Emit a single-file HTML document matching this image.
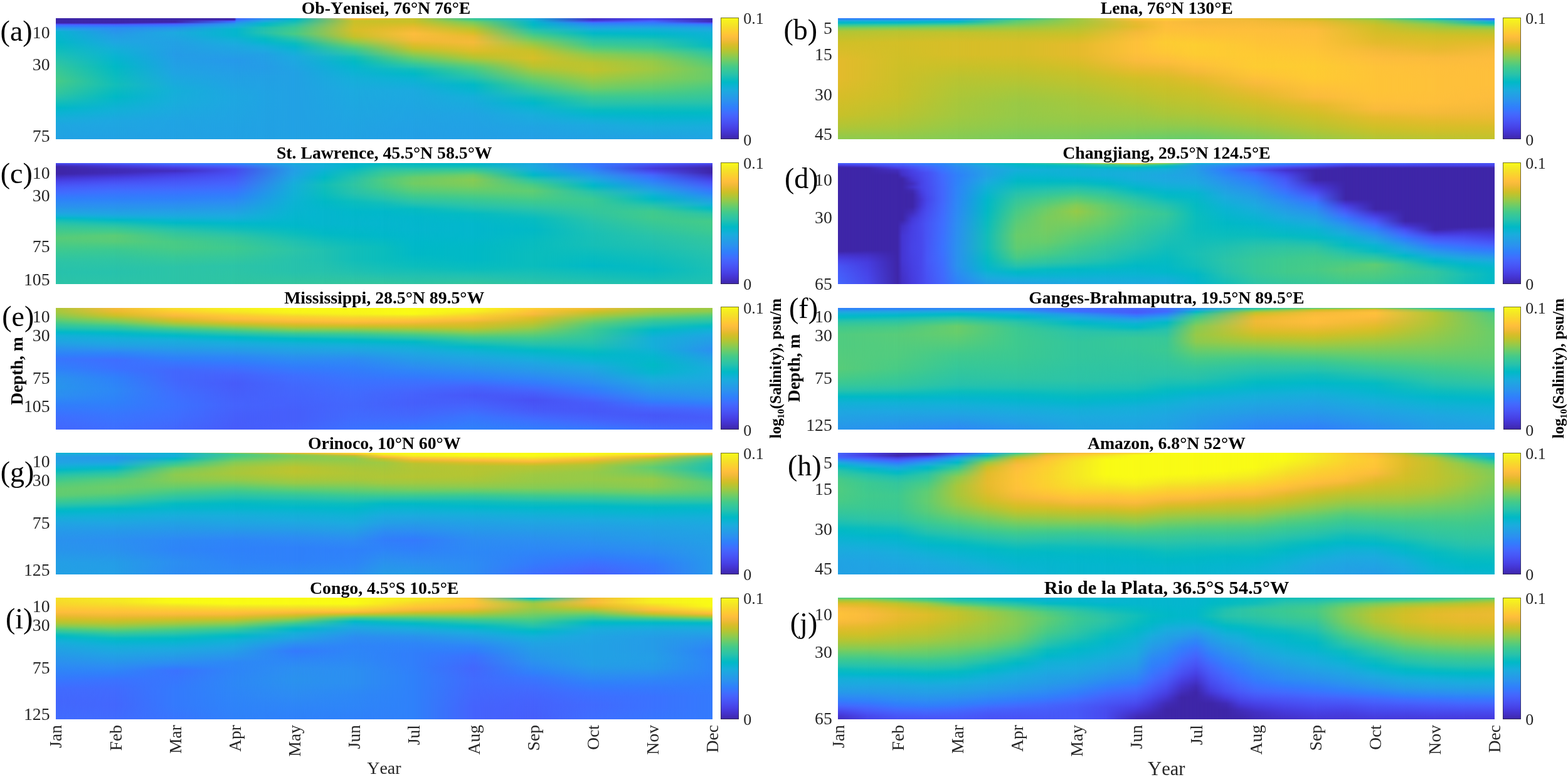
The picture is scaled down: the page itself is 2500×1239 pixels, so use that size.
<!DOCTYPE html>
<html lang="en"><head><meta charset="utf-8"><title>Salinity gradient seasonal cycle</title>
<style>
html,body{margin:0;padding:0;background:#fff}
body{width:2500px;height:1239px;position:relative;overflow:hidden;font-kerning:none;font-family:"Liberation Serif","DejaVu Serif",serif;color:#262626}
.p{position:absolute;overflow:hidden}
.p i{position:absolute;top:0;height:100%;display:block}
.cb{position:absolute;box-sizing:border-box;box-shadow:inset 0 0 0 1px rgba(38,38,38,.62);background-repeat:no-repeat}
svg{position:absolute;left:0;top:0}
text{font-family:"Liberation Serif","DejaVu Serif",serif;font-kerning:none;fill:#262626}
.t{font-size:27.75px;font-weight:bold;text-anchor:middle;fill:#000}
.y{font-size:27.7px;text-anchor:end}
.c{font-size:26px;text-anchor:start}
.l{font-size:46px;fill:#000}
.m{font-size:27.5px;text-anchor:end}
.x{font-size:27.9px;text-anchor:middle}
.d{font-size:27.5px;font-weight:bold;text-anchor:middle;fill:#000}
.s{font-size:25px;font-weight:bold;text-anchor:middle;fill:#000}
</style></head><body>
<div class="p" style="left:89.00px;top:28.55px;width:1046.75px;height:193.90px">
<i style="left:0;width:96.16px;background:linear-gradient(#3e26a8 0%,#3e26a8 4%,#422fc1 4.25%,#4538d7 4.5%,#4743e7 4.75%,#484ff2 5%,#475bf9 5.25%,#4367fd 5.5%,#3b72ff 6.12%,#317efb 6.75%,#2d88f6 7.38%,#2a92ee 8%,#259ce7 8.75%,#20a4e3 9.5%,#19addc 10.25%,#0ab4d2 11%,#01b9c6 20%,#0abdbd 25%,#1ac0b5 30%,#2cc4a7 36%,#37c898 42%,#48cb86 52%,#33c69d 62%,#27c2ac 66%,#12beb9 70%,#01b9c6 74%,#0ab4d2 78%,#17aeda 83%,#1ea7e1 88%,#22a1e4 100%)"></i>
<i style="left:0.00px;width:191.32px;background:linear-gradient(#3e26a8 0%,#3e26a8 4%,#422fc1 4.25%,#4538d7 4.5%,#4743e7 4.75%,#484ff2 5%,#475bf9 5.25%,#4367fd 5.5%,#3a73fe 6.33%,#2f80fa 7.17%,#2d8cf3 8%,#2994ed 11%,#259ce7 14%,#1fa6e2 19.5%,#15afd9 25%,#07b5d0 32.5%,#01b9c6 40%,#12beb9 55%,#01b9c6 65%,#11b1d6 75%,#1ea7e1 85%,#22a1e4 100%);-webkit-mask-image:linear-gradient(90deg,transparent 0,#000 49.739%);mask-image:linear-gradient(90deg,transparent 0,#000 49.739%)"></i>
<i style="left:95.16px;width:191.32px;background:linear-gradient(#3e26a8 0%,#3e26a8 3.5%,#422fc1 3.75%,#4538d7 4%,#4743e7 4.25%,#484ff2 4.5%,#475bf9 4.75%,#4367fd 5%,#3a73fe 5.75%,#3080fb 6.5%,#2d8bf4 7.25%,#2895ec 8%,#23a0e5 10%,#1caadf 12%,#22a1e4 20%,#259ce7 30%,#20a4e3 45%,#15afd9 60%,#19addc 70%,#20a4e3 85%,#22a1e4 100%);-webkit-mask-image:linear-gradient(90deg,transparent 0,#000 49.739%);mask-image:linear-gradient(90deg,transparent 0,#000 49.739%)"></i>
<i style="left:190.32px;width:99.01px;background:linear-gradient(#3e26a8 0%,#3e26a8 1.5%,#422fc1 1.67%,#4538d7 1.83%,#4743e7 2%,#484ff2 2.17%,#475af9 2.33%,#4367fd 2.5%,#3975fe 3.12%,#2e83f9 3.75%,#2c90f0 4.38%,#259ce7 5%,#1fa5e2 6.33%,#17aeda 7.67%,#05b6ce 9%,#05b6ce 14%,#13b0d7 18%,#1caadf 22%,#22a1e4 28.5%,#2699ea 35%,#22a1e4 50%,#1ea7e1 65%,#22a1e4 100%);-webkit-mask-image:linear-gradient(90deg,transparent 0,#000 96.107%);mask-image:linear-gradient(90deg,transparent 0,#000 96.107%)"></i>
<i style="left:285.48px;width:48.58px;background:linear-gradient(#4367fd 0%,#3f6eff 1.5%,#317efb 2.25%,#2d8cf3 3%,#2797eb 4%,#22a1e4 5%,#1ca9df 6.33%,#14b0d8 7.67%,#05b6ce 9%,#05b6ce 14%,#13b0d7 18%,#1caadf 22%,#22a1e4 28.5%,#2699ea 35%,#22a1e4 50%,#1ea7e1 65%,#22a1e4 100%);-webkit-mask-image:linear-gradient(90deg,transparent 0,#000 5.876%);mask-image:linear-gradient(90deg,transparent 0,#000 5.876%)"></i>
<i style="left:288.33px;width:93.30px;background:linear-gradient(#2d8cf3 0%,#2994ed 0.75%,#259ce7 1.5%,#1fa5e2 2.33%,#17aeda 3.17%,#05b6ce 4%,#07bcc0 6%,#21c1b0 8%,#27c2ac 12%,#16bfb7 14.5%,#04bbc2 17%,#05b6ce 20%,#15afd9 23%,#1da9e0 26.5%,#22a1e4 30%,#259ce7 40%,#22a1e4 50%,#20a4e3 65%,#22a1e4 100%);-webkit-mask-image:linear-gradient(90deg,transparent 0,#000 47.934%);mask-image:linear-gradient(90deg,transparent 0,#000 47.934%)"></i>
<i style="left:333.06px;width:143.74px;background:linear-gradient(#05b6ce 0%,#02bac4 1.5%,#12beb9 3%,#2cc4a7 5.5%,#3bc992 8%,#48cb86 13%,#33c69d 15.5%,#21c1b0 18%,#07bcc0 21%,#05b6ce 24%,#13b0d7 28%,#1caadf 32%,#22a1e4 45%,#22a1e4 100%);-webkit-mask-image:linear-gradient(90deg,transparent 0,#000 33.101%);mask-image:linear-gradient(90deg,transparent 0,#000 33.101%)"></i>
<i style="left:380.64px;width:191.32px;background:linear-gradient(#fec13a 0%,#f3ba39 0.67%,#e0bc2a 1.33%,#c8c129 2%,#d7be28 10%,#c8c129 15%,#acc738 17.5%,#8dcb4f 20%,#74cc62 21.67%,#5dcc75 23.33%,#48cb86 25%,#35c79a 27.33%,#29c3aa 29.67%,#12beb9 32%,#02bac4 36%,#05b6ce 40%,#15afd9 50%,#1caadf 60%,#22a1e4 100%);-webkit-mask-image:linear-gradient(90deg,transparent 0,#000 49.739%);mask-image:linear-gradient(90deg,transparent 0,#000 49.739%)"></i>
<i style="left:475.80px;width:191.32px;background:linear-gradient(#c8c129 0%,#c8c129 3%,#dabd28 5.5%,#eaba31 8%,#fdbd3d 13%,#f5ba3a 18%,#e1bc2b 21.5%,#c8c129 25%,#acc738 27.5%,#8dcb4f 30%,#74cc62 32%,#5dcc75 34%,#48cb86 36%,#35c79a 38%,#29c3aa 40%,#12beb9 42%,#01b9c6 46%,#0ab4d2 50%,#1caadf 60%,#20a4e3 80%,#249fe6 100%);-webkit-mask-image:linear-gradient(90deg,transparent 0,#000 49.739%);mask-image:linear-gradient(90deg,transparent 0,#000 49.739%)"></i>
<i style="left:570.95px;width:191.32px;background:linear-gradient(#2fc5a2 0%,#3dc990 1%,#55cc7c 2%,#71cd64 3%,#91ca4c 5.5%,#b0c636 8%,#c6c22a 10.33%,#d9be28 12.67%,#eaba31 15%,#f5ba3a 20%,#debd29 27%,#c8c129 30%,#b0c636 33%,#93ca4b 35.33%,#74cc62 37.67%,#58cc79 40%,#3eca8f 43.5%,#2fc5a2 47%,#24c1af 49.67%,#0fbebb 52.33%,#01b9c6 55%,#07b5d0 60%,#15afd9 65%,#20a4e3 80%,#249fe6 100%);-webkit-mask-image:linear-gradient(90deg,transparent 0,#000 49.739%);mask-image:linear-gradient(90deg,transparent 0,#000 49.739%)"></i>
<i style="left:666.11px;width:191.32px;background:linear-gradient(#1caadf 0%,#13b0d7 1.5%,#05b6ce 3%,#02bac4 5.5%,#12beb9 8%,#29c3aa 10%,#35c79a 12%,#48cb86 14%,#5dcc75 16%,#74cc62 18%,#8dcb4f 20%,#acc738 23.5%,#c8c129 27%,#d7be28 33%,#c8c129 36.5%,#b9c431 40%,#9ac945 44%,#7acc5d 48%,#60cd72 51.5%,#48cb86 55%,#35c79a 58.5%,#27c2ac 62%,#0ebdbb 66%,#01b8ca 70%,#0eb3d4 75%,#19addc 80%,#20a4e3 90%,#249fe6 100%);-webkit-mask-image:linear-gradient(90deg,transparent 0,#000 49.739%);mask-image:linear-gradient(90deg,transparent 0,#000 49.739%)"></i>
<i style="left:761.27px;width:191.32px;background:linear-gradient(#4433cc 0%,#4433cc 2%,#463de0 2.33%,#4849ed 2.67%,#4755f6 3%,#4661fc 3.33%,#406dfe 3.67%,#347afd 4%,#2e86f7 5%,#2b91ef 6%,#259ce7 7%,#21a3e3 8%,#1babde 9%,#11b1d6 10%,#01b8c8 12.5%,#12beb9 15%,#2cc4a7 18.5%,#3bc992 22%,#52cc7e 24.67%,#6ecd67 27.33%,#8dcb4f 30%,#a3c83f 33.5%,#b9c431 37%,#c1c32d 43%,#b0c636 46.5%,#9fc942 50%,#88cb53 54%,#71cd64 58%,#54cc7d 61.5%,#3bc992 65%,#2fc5a2 68.5%,#21c1b0 72%,#07bcc0 76%,#05b6ce 80%,#13b0d7 84%,#1caadf 88%,#22a1e4 100%);-webkit-mask-image:linear-gradient(90deg,transparent 0,#000 49.739%);mask-image:linear-gradient(90deg,transparent 0,#000 49.739%)"></i>
<i style="left:856.43px;width:191.32px;background:linear-gradient(#4743e7 0%,#4743e7 1%,#484ef1 1.5%,#4758f8 2%,#4563fd 2.5%,#3f6eff 3%,#327bfc 4%,#2e87f7 5%,#2a92ee 6%,#259de7 7%,#1fa6e1 8%,#15afd9 9%,#0ab4d2 11%,#01b8ca 13%,#0abdbd 15.5%,#21c1b0 18%,#2fc5a2 21%,#3bc992 24%,#54cc7d 27%,#71cd64 30%,#96ca48 36%,#9fc942 42%,#84cc56 50%,#71cd64 54%,#60cd72 58%,#48cb86 62%,#37c898 66%,#29c3a9 70%,#12beb9 74%,#02bac4 78%,#05b6ce 82%,#11b1d6 86%,#19addc 90%,#22a1e4 100%);-webkit-mask-image:linear-gradient(90deg,transparent 0,#000 49.739%);mask-image:linear-gradient(90deg,transparent 0,#000 49.739%)"></i>
<i style="left:951.59px;width:95.16px;background:linear-gradient(#402bb7 0%,#402bb7 3%,#4435d2 3.33%,#4742e6 3.67%,#4850f2 4%,#465dfa 4.33%,#416bfe 4.67%,#347afd 5%,#2e85f8 5.75%,#2c8ff1 6.5%,#2699ea 7.25%,#22a1e4 8%,#1caadf 10%,#11b1d6 12%,#05b6ce 18%,#04bbc2 23%,#1ac0b5 25.5%,#2cc4a7 28%,#37c898 31%,#48cb86 34%,#58cc79 38%,#68cd6b 42%,#68cd6b 50%,#58cc79 54%,#48cb86 58%,#33c69d 66%,#27c2ac 70%,#12beb9 74%,#02bac4 78%,#05b6ce 82%,#11b1d6 86%,#19addc 90%,#20a4e3 100%);-webkit-mask-image:linear-gradient(90deg,transparent 0,#000 100.000%);mask-image:linear-gradient(90deg,transparent 0,#000 100.000%)"></i>
</div>
<div class="cb" style="left:1149.40px;top:28.25px;width:28.50px;height:194.00px;background:linear-gradient(#f9fb15 0.0%,#f6ef20 3.1%,#f5e327 6.2%,#f9d62d 9.4%,#feca33 12.5%,#febe3c 15.6%,#f1ba37 18.8%,#debc2a 21.9%,#c8c129 25.0%,#afc637 28.1%,#94ca4a 31.2%,#77cc60 34.4%,#5ccc76 37.5%,#44ca8a 40.6%,#34c79c 43.8%,#28c2ab 46.9%,#12beb9 50.0%,#01b9c6 53.1%,#0cb3d3 56.2%,#1aacdd 59.4%,#21a3e3 62.5%,#269ae9 65.6%,#2c90f0 68.8%,#2e85f8 71.9%,#347afd 75.0%,#3f6efe 78.1%,#4562fc 81.2%,#4757f7 84.4%,#484cef 87.5%,#4741e5 90.6%,#4536d5 93.8%,#422ebf 96.9%,#3e26a8 100.0%)"></div>
<div class="p" style="left:1336.25px;top:28.55px;width:1046.75px;height:193.90px">
<i style="left:0;width:96.16px;background:linear-gradient(#347afd 0%,#2e83f9 0.5%,#2d8cf3 1%,#2896ec 1.38%,#249fe6 1.75%,#1ea7e1 2.12%,#15afd9 2.5%,#07b5d0 3.25%,#01b9c6 4%,#18bfb6 4.67%,#2dc4a5 5.33%,#3bc992 6%,#4dcc82 6.67%,#62cd70 7.33%,#7acc5d 8%,#96ca48 9.5%,#b0c636 11%,#c1c32d 15.5%,#d0c027 20%,#e4bb2c 35%,#e4bb2c 50%,#d7be28 65%,#c8c129 80%,#b0c636 90%,#8dcb4f 100%)"></i>
<i style="left:0.00px;width:191.32px;background:linear-gradient(#347afd 0%,#2e83f9 0.5%,#2d8cf3 1%,#2896ec 1.38%,#249fe6 1.75%,#1ea7e1 2.12%,#15afd9 2.5%,#05b6ce 3.25%,#04bbc2 4%,#1ac0b5 4.5%,#2cc4a7 5%,#37c898 5.5%,#48cb86 6%,#64cd6f 7%,#84cc56 8%,#9fc942 9.5%,#b9c431 11%,#d3bf27 20%,#d0c027 35%,#ccc028 50%,#c8c129 65%,#b9c431 80%,#a8c73b 90%,#8dcb4f 100%);-webkit-mask-image:linear-gradient(90deg,transparent 0,#000 49.739%);mask-image:linear-gradient(90deg,transparent 0,#000 49.739%)"></i>
<i style="left:95.16px;width:191.32px;background:linear-gradient(#2d8cf3 0%,#2994ed 0.5%,#259ce7 1%,#1fa5e2 1.5%,#17aeda 2%,#05b6ce 2.5%,#07bcc0 3.25%,#21c1b0 4%,#32c69f 4.67%,#43ca8a 5.33%,#60cd72 6%,#76cc61 7%,#8dcb4f 8%,#a8c73b 10%,#c1c32d 12%,#d7be28 20%,#d7be28 30%,#c8c129 40%,#b9c431 50%,#b0c636 60%,#a8c73b 70%,#a3c83f 80%,#96ca48 90%,#84cc56 100%);-webkit-mask-image:linear-gradient(90deg,transparent 0,#000 49.739%);mask-image:linear-gradient(90deg,transparent 0,#000 49.739%)"></i>
<i style="left:190.32px;width:191.32px;background:linear-gradient(#12beb9 0%,#27c2ac 0.5%,#33c69d 1%,#41ca8c 1.5%,#58cc79 2%,#68cd6b 3.5%,#7acc5d 5%,#9fc942 8%,#b0c636 10%,#c1c32d 12%,#d7be28 20%,#d7be28 30%,#c8c129 40%,#b9c431 50%,#a8c73b 60%,#9ac945 70%,#96ca48 80%,#8dcb4f 90%,#7acc5d 100%);-webkit-mask-image:linear-gradient(90deg,transparent 0,#000 49.739%);mask-image:linear-gradient(90deg,transparent 0,#000 49.739%)"></i>
<i style="left:285.48px;width:191.32px;background:linear-gradient(#9fc942 0%,#9fc942 2%,#a8c73b 5%,#bdc42f 10%,#d0c027 15%,#e4bb2c 22%,#e4bb2c 30%,#d7be28 38%,#c8c129 45%,#b9c431 55%,#a8c73b 65%,#9fc942 75%,#96ca48 85%,#7acc5d 100%);-webkit-mask-image:linear-gradient(90deg,transparent 0,#000 49.739%);mask-image:linear-gradient(90deg,transparent 0,#000 49.739%)"></i>
<i style="left:380.64px;width:143.74px;background:linear-gradient(#fad42e 0%,#fec835 0.5%,#fdbd3d 1%,#eaba31 3%,#e4bb2c 7%,#f5ba3a 12%,#fec13a 20%,#fec13a 28%,#fabb3d 35%,#eaba31 42%,#debd29 46%,#d0c027 50%,#c1c32d 60%,#b0c636 70%,#9fc942 80%,#8dcb4f 90%,#6dcd68 100%);-webkit-mask-image:linear-gradient(90deg,transparent 0,#000 66.203%);mask-image:linear-gradient(90deg,transparent 0,#000 66.203%)"></i>
<i style="left:475.80px;width:96.16px;background:linear-gradient(#fad42e 0%,#fec835 1.5%,#fdbd3d 3%,#fec13a 10%,#fdcc32 20%,#fec835 28%,#fdbd3d 36%,#eaba31 43%,#d7be28 50%,#c8c129 60%,#b9c431 70%,#a8c73b 80%,#8dcb4f 90%,#7acc5d 95%,#68cd6b 100%);-webkit-mask-image:linear-gradient(90deg,transparent 0,#000 49.480%);mask-image:linear-gradient(90deg,transparent 0,#000 49.480%)"></i>
<i style="left:523.38px;width:143.74px;background:linear-gradient(#fec13a 0%,#f5ba3a 3%,#fdbd3d 8%,#fec437 15%,#fdce31 22%,#fdcc32 30%,#fec13a 38%,#f5ba3a 44%,#e4bb2c 50%,#d0c027 58%,#c1c32d 68%,#b0c636 78%,#96ca48 88%,#7acc5d 95%,#68cd6b 100%);-webkit-mask-image:linear-gradient(90deg,transparent 0,#000 33.101%);mask-image:linear-gradient(90deg,transparent 0,#000 33.101%)"></i>
<i style="left:570.95px;width:191.32px;background:linear-gradient(#eaba31 0%,#f5ba3a 3%,#febf3b 10%,#fec437 20%,#feca33 30%,#fdcc32 40%,#fec437 47%,#fabb3d 53%,#eaba31 60%,#d7be28 68%,#c1c32d 78%,#a8c73b 88%,#91ca4c 94%,#7acc5d 100%);-webkit-mask-image:linear-gradient(90deg,transparent 0,#000 49.739%);mask-image:linear-gradient(90deg,transparent 0,#000 49.739%)"></i>
<i style="left:666.11px;width:191.32px;background:linear-gradient(#c8c129 0%,#dabd28 1.5%,#eaba31 3%,#fdbd3d 10%,#fec13a 20%,#fec636 30%,#fdcc32 40%,#feca33 50%,#fec13a 58%,#fabb3d 65%,#e4bb2c 72%,#d0c027 80%,#b9c431 90%,#a8c73b 95%,#96ca48 100%);-webkit-mask-image:linear-gradient(90deg,transparent 0,#000 49.739%);mask-image:linear-gradient(90deg,transparent 0,#000 49.739%)"></i>
<i style="left:761.27px;width:191.32px;background:linear-gradient(#71cd64 0%,#91ca4c 1%,#b0c636 2%,#ccc028 6%,#d7be28 12%,#e4bb2c 20%,#f5ba3a 27%,#fdbd3d 33%,#fec339 40%,#fec437 50%,#fec437 60%,#fec13a 68%,#fabb3d 75%,#e4bb2c 82%,#d0c027 90%,#c1c32d 95%,#b0c636 100%);-webkit-mask-image:linear-gradient(90deg,transparent 0,#000 49.739%);mask-image:linear-gradient(90deg,transparent 0,#000 49.739%)"></i>
<i style="left:856.43px;width:191.32px;background:linear-gradient(#05b6ce 0%,#08bcbe 0.5%,#24c2ae 1%,#34c79c 1.5%,#48cb86 2%,#5dcc75 3%,#74cc62 4%,#8dcb4f 5%,#b0c636 9%,#c1c32d 11.5%,#d0c027 14%,#debd29 20%,#eaba31 27%,#fabb3d 33%,#febf3b 40%,#fec13a 50%,#fec13a 60%,#febf3b 70%,#f5ba3a 78%,#e4bb2c 85%,#d3bf27 92%,#b9c431 100%);-webkit-mask-image:linear-gradient(90deg,transparent 0,#000 49.739%);mask-image:linear-gradient(90deg,transparent 0,#000 49.739%)"></i>
<i style="left:951.59px;width:95.16px;background:linear-gradient(#4367fd 0%,#4367fd 1%,#3a74fe 1.25%,#2f80fa 1.5%,#2d8cf3 1.75%,#2797eb 2%,#23a1e5 2.25%,#1caadf 2.5%,#0eb2d4 3.17%,#01b9c7 3.83%,#12beb9 4.5%,#2bc3a8 5.12%,#39c895 5.75%,#52cc7e 6.38%,#71cd64 7%,#91ca4c 8.5%,#b0c636 10%,#c1c32d 12.5%,#d0c027 15%,#e4bb2c 20%,#f5ba3a 27%,#fdbd3d 35%,#febf3b 45%,#febf3b 55%,#fdbd3d 65%,#f5ba3a 75%,#eaba31 83%,#d7be28 90%,#c1c32d 100%);-webkit-mask-image:linear-gradient(90deg,transparent 0,#000 100.000%);mask-image:linear-gradient(90deg,transparent 0,#000 100.000%)"></i>
</div>
<div class="cb" style="left:2396.30px;top:28.25px;width:28.30px;height:194.00px;background:linear-gradient(#f9fb15 0.0%,#f6ef20 3.1%,#f5e327 6.2%,#f9d62d 9.4%,#feca33 12.5%,#febe3c 15.6%,#f1ba37 18.8%,#debc2a 21.9%,#c8c129 25.0%,#afc637 28.1%,#94ca4a 31.2%,#77cc60 34.4%,#5ccc76 37.5%,#44ca8a 40.6%,#34c79c 43.8%,#28c2ab 46.9%,#12beb9 50.0%,#01b9c6 53.1%,#0cb3d3 56.2%,#1aacdd 59.4%,#21a3e3 62.5%,#269ae9 65.6%,#2c90f0 68.8%,#2e85f8 71.9%,#347afd 75.0%,#3f6efe 78.1%,#4562fc 81.2%,#4757f7 84.4%,#484cef 87.5%,#4741e5 90.6%,#4536d5 93.8%,#422ebf 96.9%,#3e26a8 100.0%)"></div>
<div class="p" style="left:89.00px;top:259.60px;width:1046.75px;height:193.90px">
<i style="left:0;width:96.16px;background:linear-gradient(#4755f6 0%,#4849ed 0.5%,#463de0 1%,#4433cc 1.5%,#412dbb 2.25%,#3e26a8 3%,#3e26a8 9%,#412dbb 10.5%,#4433cc 12%,#463adc 13.5%,#4743e7 15%,#4850f2 17.5%,#475cfa 20%,#4465fd 22.5%,#3f6eff 25%,#3678fd 27.5%,#2f81fa 30%,#2d8af4 33%,#2a92ee 36%,#259ce7 38.5%,#20a4e3 41%,#1aabdd 42.5%,#11b1d6 44%,#01b8c8 45.5%,#12beb9 47%,#27c2ac 49.5%,#33c69d 52%,#48cb86 58%,#58cc79 62%,#48cb86 68%,#37c898 75%,#2cc4a7 82%,#27c2ac 90%,#2cc4a7 100%)"></i>
<i style="left:0.00px;width:191.32px;background:linear-gradient(#4367fd 0%,#475cfa 0.5%,#4851f4 1%,#4747eb 1.5%,#463cde 2%,#4433cc 3.5%,#402bb7 5%,#402bb7 8%,#4433cc 10%,#463adc 11.5%,#4743e7 13%,#4850f2 15.5%,#475cfa 18%,#4465fd 20.5%,#3f6eff 23%,#3678fd 26.5%,#2f81fa 30%,#2d8cf3 33.5%,#2895ec 37%,#249de7 39.5%,#20a4e3 42%,#1aabdd 43.5%,#11b1d6 45%,#01b8c8 47%,#12beb9 49%,#29c3a9 51.5%,#37c898 54%,#46cb88 57%,#5ccc76 60%,#58cc79 65%,#48cb86 68.5%,#3bc992 72%,#2fc5a2 80%,#27c2ac 90%,#2cc4a7 100%);-webkit-mask-image:linear-gradient(90deg,transparent 0,#000 49.739%);mask-image:linear-gradient(90deg,transparent 0,#000 49.739%)"></i>
<i style="left:95.16px;width:191.32px;background:linear-gradient(#347afd 0%,#406dfe 0.67%,#4661fc 1.33%,#4755f6 2%,#4848ec 3%,#463cde 4%,#4434d0 5.25%,#422ebe 6.5%,#4434d0 7.75%,#463cde 9%,#4745e9 11%,#484ef1 13%,#4757f7 15.5%,#465ffb 18%,#4369fe 21%,#3b72ff 24%,#347afd 27%,#2f81fa 30%,#2d8cf3 33.5%,#2895ec 37%,#249fe6 40%,#1ea7e1 43%,#17aeda 45%,#0ab4d2 47%,#01b9c6 49.5%,#12beb9 52%,#27c2ac 55%,#33c69d 58%,#48cb86 65%,#48cb86 70%,#37c898 78%,#2cc4a7 86%,#2cc4a7 100%);-webkit-mask-image:linear-gradient(90deg,transparent 0,#000 49.739%);mask-image:linear-gradient(90deg,transparent 0,#000 49.739%)"></i>
<i style="left:190.32px;width:191.32px;background:linear-gradient(#2d8cf3 0%,#2f80fa 0.67%,#3a74fe 1.33%,#4367fd 2%,#465dfa 3%,#4854f5 4%,#484aee 5%,#484ef1 8%,#4758f8 12%,#465ffb 15%,#4367fd 18%,#3d70ff 21.5%,#347afd 25%,#2e83f9 28.5%,#2d8cf3 32%,#2797eb 36%,#22a1e4 40%,#1da9e0 43%,#15afd9 46%,#0ab4d2 48%,#01b8ca 50%,#12beb9 55%,#27c2ac 58.5%,#33c69d 62%,#3eca8f 70%,#37c898 76%,#2cc4a7 85%,#2fc5a2 100%);-webkit-mask-image:linear-gradient(90deg,transparent 0,#000 49.739%);mask-image:linear-gradient(90deg,transparent 0,#000 49.739%)"></i>
<i style="left:285.48px;width:143.74px;background:linear-gradient(#15afd9 0%,#20a4e3 2%,#249fe6 5%,#20a4e3 10%,#15afd9 18%,#11b1d6 25%,#0ab4d2 35%,#05b6ce 45%,#01b8ca 52%,#0abdbd 58%,#21c1b0 65%,#2cc4a7 72%,#27c2ac 80%,#27c2ac 90%,#33c69d 100%);-webkit-mask-image:linear-gradient(90deg,transparent 0,#000 66.203%);mask-image:linear-gradient(90deg,transparent 0,#000 66.203%)"></i>
<i style="left:380.64px;width:96.16px;background:linear-gradient(#11b1d6 0%,#15afd9 3%,#0ab4d2 7%,#01b9c6 12%,#12beb9 18%,#0abdbd 25%,#01b9c6 32%,#05b6ce 40%,#05b6ce 50%,#01b9c6 58%,#12beb9 65%,#21c1b0 72%,#21c1b0 80%,#27c2ac 90%,#33c69d 100%);-webkit-mask-image:linear-gradient(90deg,transparent 0,#000 49.480%);mask-image:linear-gradient(90deg,transparent 0,#000 49.480%)"></i>
<i style="left:428.22px;width:96.16px;background:linear-gradient(#05b6ce 0%,#01b8ca 3%,#12beb9 7%,#27c2ac 12%,#2fc5a2 18%,#27c2ac 25%,#1ac0b5 28.5%,#0abdbd 32%,#01b8ca 40%,#05b6ce 50%,#01b9c6 60%,#12beb9 70%,#12beb9 80%,#21c1b0 90%,#2cc4a7 95%,#33c69d 100%);-webkit-mask-image:linear-gradient(90deg,transparent 0,#000 49.480%);mask-image:linear-gradient(90deg,transparent 0,#000 49.480%)"></i>
<i style="left:475.80px;width:96.16px;background:linear-gradient(#01b9c6 0%,#0ebdbb 2%,#21c1b0 4%,#2ec4a5 6%,#37c898 8%,#41ca8c 11%,#50cc80 14%,#48cb86 20%,#39c895 23.5%,#2fc5a2 27%,#24c2ae 30%,#12beb9 33%,#01b8ca 40%,#05b6ce 50%,#01b8ca 60%,#0abdbd 70%,#0abdbd 80%,#1ac0b5 90%,#29c3a9 95%,#33c69d 100%);-webkit-mask-image:linear-gradient(90deg,transparent 0,#000 49.480%);mask-image:linear-gradient(90deg,transparent 0,#000 49.480%)"></i>
<i style="left:523.38px;width:143.74px;background:linear-gradient(#01b9c6 0%,#12beb9 3%,#2cc4a7 5%,#3bc992 7%,#50cc80 9.5%,#68cd6b 12%,#71cd64 17%,#58cc79 23%,#48cb86 25.5%,#3bc992 28%,#31c6a0 30.5%,#27c2ac 33%,#16bfb7 35.5%,#04bbc2 38%,#03b7cc 45%,#05b6ce 55%,#01b8ca 65%,#01b9c6 75%,#0abdbd 85%,#21c1b0 93%,#2fc5a2 100%);-webkit-mask-image:linear-gradient(90deg,transparent 0,#000 33.101%);mask-image:linear-gradient(90deg,transparent 0,#000 33.101%)"></i>
<i style="left:570.95px;width:191.32px;background:linear-gradient(#05b6ce 0%,#02bac4 1.5%,#12beb9 3%,#2cc4a7 4.5%,#3bc992 6%,#54cc7d 8%,#71cd64 10%,#88cb53 14%,#7acc5d 19%,#68cd6b 22%,#58cc79 25%,#48cb86 27.5%,#3bc992 30%,#31c6a0 33%,#27c2ac 36%,#16bfb7 39%,#04bbc2 42%,#03b7cc 50%,#03b7cc 60%,#01b9c6 70%,#01b9c6 80%,#0abdbd 88%,#1ac0b5 91.5%,#27c2ac 95%,#33c69d 100%);-webkit-mask-image:linear-gradient(90deg,transparent 0,#000 49.739%);mask-image:linear-gradient(90deg,transparent 0,#000 49.739%)"></i>
<i style="left:666.11px;width:191.32px;background:linear-gradient(#1caadf 0%,#1caadf 3%,#15afd9 6%,#07b5d0 8%,#01b9c6 10%,#16bfb7 12%,#2cc4a7 14%,#37c898 16%,#48cb86 18%,#60cd72 23%,#50cc80 28%,#41ca8c 31%,#37c898 34%,#2ec4a5 37%,#21c1b0 40%,#07bcc0 46%,#01b9c6 55%,#07bcc0 65%,#0abdbd 75%,#0abdbd 85%,#21c1b0 95%,#2cc4a7 100%);-webkit-mask-image:linear-gradient(90deg,transparent 0,#000 49.739%);mask-image:linear-gradient(90deg,transparent 0,#000 49.739%)"></i>
<i style="left:761.27px;width:191.32px;background:linear-gradient(#347afd 0%,#347afd 3%,#2e83f9 5%,#2d8cf3 7%,#2895ec 9%,#249fe6 11%,#1ea7e1 13%,#15afd9 15%,#07b5d0 17%,#01b9c6 19%,#12beb9 21.5%,#27c2ac 24%,#31c6a0 27%,#3bc992 30%,#39c895 35%,#31c6a0 42%,#24c2ae 50%,#1ac0b5 58%,#16bfb7 68%,#07bcc0 78%,#01b9c6 85%,#12beb9 92%,#27c2ac 100%);-webkit-mask-image:linear-gradient(90deg,transparent 0,#000 49.739%);mask-image:linear-gradient(90deg,transparent 0,#000 49.739%)"></i>
<i style="left:856.43px;width:191.32px;background:linear-gradient(#4367fd 0%,#465dfa 0.67%,#4854f5 1.33%,#484aee 2%,#4741e5 3.25%,#4539d9 4.5%,#4741e5 5.75%,#484aee 7%,#4854f5 8%,#465dfa 9%,#4367fd 10%,#3974fe 12.5%,#2f81fa 15%,#2d8df2 17.5%,#2699ea 20%,#20a4e3 22.5%,#15afd9 25%,#07b5d0 27.5%,#01b9c6 30%,#12beb9 32.5%,#27c2ac 35%,#32c69e 37.5%,#3eca8f 40%,#41ca8c 45%,#35c79a 52%,#29c3a9 60%,#1ec0b2 70%,#0ebdbb 80%,#04bbc2 88%,#12beb9 95%,#21c1b0 100%);-webkit-mask-image:linear-gradient(90deg,transparent 0,#000 49.739%);mask-image:linear-gradient(90deg,transparent 0,#000 49.739%)"></i>
<i style="left:951.59px;width:95.16px;background:linear-gradient(#4755f6 0%,#4849ed 0.67%,#463de0 1.33%,#4433cc 2%,#412dbb 3%,#3e26a8 4%,#3e26a8 8%,#412dbb 9.5%,#4433cc 11%,#463ee1 13%,#484aee 15%,#4854f5 16.67%,#465dfa 18.33%,#4367fd 20%,#3974fe 22.5%,#2f81fa 25%,#2c8ff1 27.5%,#259ce7 30%,#21a3e3 31.67%,#1babde 33.33%,#11b1d6 35%,#03b7cc 36.5%,#04bbc2 38%,#1ac0b5 40%,#2cc4a7 42%,#36c799 45%,#44cb89 48%,#3eca8f 55%,#33c69d 62%,#2cc4a7 70%,#21c1b0 80%,#1ac0b5 90%,#21c1b0 100%);-webkit-mask-image:linear-gradient(90deg,transparent 0,#000 100.000%);mask-image:linear-gradient(90deg,transparent 0,#000 100.000%)"></i>
</div>
<div class="cb" style="left:1149.40px;top:259.30px;width:28.50px;height:194.00px;background:linear-gradient(#f9fb15 0.0%,#f6ef20 3.1%,#f5e327 6.2%,#f9d62d 9.4%,#feca33 12.5%,#febe3c 15.6%,#f1ba37 18.8%,#debc2a 21.9%,#c8c129 25.0%,#afc637 28.1%,#94ca4a 31.2%,#77cc60 34.4%,#5ccc76 37.5%,#44ca8a 40.6%,#34c79c 43.8%,#28c2ab 46.9%,#12beb9 50.0%,#01b9c6 53.1%,#0cb3d3 56.2%,#1aacdd 59.4%,#21a3e3 62.5%,#269ae9 65.6%,#2c90f0 68.8%,#2e85f8 71.9%,#347afd 75.0%,#3f6efe 78.1%,#4562fc 81.2%,#4757f7 84.4%,#484cef 87.5%,#4741e5 90.6%,#4536d5 93.8%,#422ebf 96.9%,#3e26a8 100.0%)"></div>
<div class="p" style="left:1336.25px;top:259.60px;width:1046.75px;height:193.90px">
<i style="left:0;width:48.58px;background:linear-gradient(#4367fd 0%,#475bf9 0.5%,#484ff2 1%,#4743e7 1.5%,#463adb 2%,#4332ca 2.5%,#402bb7 3%,#3e26a8 4%,#3e26a8 73%,#412dbb 74.5%,#4433cc 76%,#463adc 78%,#4743e7 80%,#484cef 82.5%,#4755f6 85%,#465ffb 92%,#4367fd 100%)"></i>
<i style="left:0.00px;width:96.16px;background:linear-gradient(#4367fd 0%,#475bf9 0.67%,#484ff2 1.33%,#4743e7 2%,#4538d7 2.67%,#422fc1 3.33%,#3e26a8 4%,#3e26a8 72%,#402bb7 74%,#4330c5 76%,#4536d3 79%,#463cde 82%,#4743e7 90%,#484aee 100%);-webkit-mask-image:linear-gradient(90deg,transparent 0,#000 49.480%);mask-image:linear-gradient(90deg,transparent 0,#000 49.480%)"></i>
<i style="left:47.58px;width:56.19px;background:linear-gradient(#3f6eff 0%,#4562fc 1%,#4756f7 2%,#484aee 3%,#473fe3 4%,#4536d3 5%,#422ebe 6%,#3e26a8 10%,#3e26a8 100%);-webkit-mask-image:linear-gradient(90deg,transparent 0,#000 84.673%);mask-image:linear-gradient(90deg,transparent 0,#000 84.673%)"></i>
<i style="left:95.16px;width:24.79px;background:linear-gradient(#3f6eff 0%,#4562fc 1%,#4756f7 2%,#484aee 3%,#473fe3 4.5%,#4536d3 6%,#4330c5 10%,#402bb7 11.5%,#3e26a8 13%,#3e26a8 47%,#402bb7 49.5%,#4330c5 52%,#4536d3 60%,#4536d3 80%,#4330c5 100%);-webkit-mask-image:linear-gradient(90deg,transparent 0,#000 30.709%);mask-image:linear-gradient(90deg,transparent 0,#000 30.709%)"></i>
<i style="left:102.77px;width:31.45px;background:linear-gradient(#347afd 0%,#406dfe 1%,#4661fc 2%,#4755f6 3%,#484cef 4.5%,#4743e7 6%,#463cde 10%,#4536d3 14%,#422ebe 17%,#4433cc 20%,#422ebe 21.5%,#3f29b0 23%,#3e26a8 26%,#3e26a8 36%,#422ebe 41%,#4433cc 43.5%,#4539d9 46%,#473fe3 52%,#4743e7 70%,#463cde 100%);-webkit-mask-image:linear-gradient(90deg,transparent 0,#000 51.436%);mask-image:linear-gradient(90deg,transparent 0,#000 51.436%)"></i>
<i style="left:118.95px;width:24.79px;background:linear-gradient(#2f81fa 0%,#3876fe 1%,#416bfe 2%,#465ffb 3%,#4755f6 5.5%,#484aee 8%,#4743e7 15%,#4743e7 20%,#463cde 25%,#4536d3 30%,#4539d9 35%,#4743e7 42%,#484aee 50%,#4747eb 100%);-webkit-mask-image:linear-gradient(90deg,transparent 0,#000 57.580%);mask-image:linear-gradient(90deg,transparent 0,#000 57.580%)"></i>
<i style="left:133.22px;width:34.31px;background:linear-gradient(#2e85f8 0%,#327bfc 1%,#3d71ff 2%,#4367fd 3%,#475cfa 5.5%,#4851f4 8%,#484ef1 15%,#484aee 25%,#4747eb 30%,#484ef1 40%,#4755f6 50%,#4758f8 80%,#4851f4 100%);-webkit-mask-image:linear-gradient(90deg,transparent 0,#000 27.739%);mask-image:linear-gradient(90deg,transparent 0,#000 27.739%)"></i>
<i style="left:142.74px;width:48.58px;background:linear-gradient(#2d8cf3 0%,#2e83f9 1.5%,#347afd 3%,#3b72ff 6.5%,#416bfe 10%,#4367fd 20%,#4367fd 30%,#3f6eff 50%,#3b72ff 70%,#4367fd 100%);-webkit-mask-image:linear-gradient(90deg,transparent 0,#000 48.971%);mask-image:linear-gradient(90deg,transparent 0,#000 48.971%)"></i>
<i style="left:166.53px;width:72.37px;background:linear-gradient(#259ce7 0%,#2994ed 1.5%,#2d8cf3 3%,#2f81fa 10%,#2e85f8 20%,#2d88f6 30%,#2c8ff1 50%,#2a92ee 70%,#2a92ee 85%,#2d8af4 92.5%,#2f81fa 100%);-webkit-mask-image:linear-gradient(90deg,transparent 0,#000 32.873%);mask-image:linear-gradient(90deg,transparent 0,#000 32.873%)"></i>
<i style="left:190.32px;width:96.16px;background:linear-gradient(#05b6ce 0%,#13b0d7 1%,#1caadf 2%,#22a1e4 6%,#22a1e4 10%,#1caadf 15%,#11b1d6 20%,#01b8ca 30%,#02bac4 40%,#0abdbd 50%,#12beb9 60%,#12beb9 70%,#04bbc2 80%,#05b6ce 88%,#13b0d7 91.5%,#1caadf 95%,#21a3e3 97.5%,#259ce7 100%);-webkit-mask-image:linear-gradient(90deg,transparent 0,#000 49.480%);mask-image:linear-gradient(90deg,transparent 0,#000 49.480%)"></i>
<i style="left:237.90px;width:96.16px;background:linear-gradient(#12beb9 0%,#02bac4 1%,#05b6ce 2%,#15afd9 6%,#0ab4d2 10%,#01b9c6 15%,#12beb9 20%,#27c2ac 25%,#33c69d 30%,#48cb86 40%,#5ccc76 50%,#68cd6b 60%,#60cd72 70%,#48cb86 78%,#35c79a 81.5%,#27c2ac 85%,#12beb9 87.5%,#01b9c6 90%,#07b5d0 92.5%,#15afd9 95%,#1da9e0 97.5%,#22a1e4 100%);-webkit-mask-image:linear-gradient(90deg,transparent 0,#000 49.480%);mask-image:linear-gradient(90deg,transparent 0,#000 49.480%)"></i>
<i style="left:285.48px;width:96.16px;background:linear-gradient(#2fc5a2 0%,#23c1af 0.67%,#0fbeba 1.33%,#01b9c6 2%,#11b1d6 6%,#0ab4d2 10%,#01b9c6 15%,#0abdbd 17.5%,#1ac0b5 20%,#2cc4a7 23.33%,#37c898 26.67%,#48cb86 30%,#5acc78 34%,#6dcd68 38%,#7acc5d 45%,#76cc61 55%,#68cd6b 65%,#58cc79 70%,#48cb86 75%,#39c895 78.5%,#2fc5a2 82%,#1ec0b2 85%,#04bbc2 88%,#0ab4d2 93%,#19addc 96.5%,#20a4e3 100%);-webkit-mask-image:linear-gradient(90deg,transparent 0,#000 49.480%);mask-image:linear-gradient(90deg,transparent 0,#000 49.480%)"></i>
<i style="left:333.06px;width:96.16px;background:linear-gradient(#71cd64 0%,#51cc7f 0.38%,#39c895 0.75%,#2bc3a8 1.12%,#12beb9 1.5%,#01b8c8 3.25%,#11b1d6 5%,#11b1d6 10%,#01b9c6 15%,#0ebdbb 17.5%,#21c1b0 20%,#2fc5a2 22.67%,#3bc992 25.33%,#50cc80 28%,#68cd6b 31.5%,#84cc56 35%,#96ca48 40%,#84cc56 46%,#68cd6b 55%,#50cc80 65%,#41ca8c 70%,#37c898 75%,#27c2ac 82%,#12beb9 85%,#01b9c6 88%,#0ab4d2 93%,#17aeda 96.5%,#1ea7e1 100%);-webkit-mask-image:linear-gradient(90deg,transparent 0,#000 49.480%);mask-image:linear-gradient(90deg,transparent 0,#000 49.480%)"></i>
<i style="left:380.64px;width:96.16px;background:linear-gradient(#c8c129 0%,#a8c73b 0.3%,#84cc56 0.6%,#60cd72 0.9%,#41ca8c 1.2%,#2fc5a2 1.5%,#21c1b0 2.38%,#0abdbd 3.25%,#01b8ca 4.12%,#11b1d6 5%,#15afd9 10%,#05b6ce 15%,#02bac4 17.5%,#12beb9 20%,#2cc4a7 24%,#3bc992 28%,#4ccb83 31.5%,#60cd72 35%,#6dcd68 42%,#60cd72 50%,#48cb86 60%,#33c69d 70%,#27c2ac 78%,#1ac0b5 81.5%,#0abdbd 85%,#05b6ce 90%,#13b0d7 95%,#1caadf 100%);-webkit-mask-image:linear-gradient(90deg,transparent 0,#000 49.480%);mask-image:linear-gradient(90deg,transparent 0,#000 49.480%)"></i>
<i style="left:428.22px;width:96.16px;background:linear-gradient(#f5ba3a 0%,#e0bc2a 0.25%,#c6c22a 0.5%,#a8c73b 0.75%,#87cb54 1%,#65cd6e 1.25%,#48cb86 1.5%,#34c79c 2.12%,#24c2ae 2.75%,#08bcbf 3.38%,#05b6ce 4%,#11b1d6 6%,#19addc 8%,#19addc 13%,#0ab4d2 18%,#01b9c6 21.5%,#12beb9 25%,#27c2ac 28.5%,#33c69d 32%,#48cb86 40%,#3eca8f 50%,#33c69d 60%,#27c2ac 70%,#12beb9 78%,#01b9c6 85%,#0ab4d2 92%,#1caadf 100%);-webkit-mask-image:linear-gradient(90deg,transparent 0,#000 49.480%);mask-image:linear-gradient(90deg,transparent 0,#000 49.480%)"></i>
<i style="left:475.80px;width:96.16px;background:linear-gradient(#9fc942 0%,#7acc5d 0.4%,#58cc79 0.8%,#3bc992 1.2%,#2cc4a7 1.6%,#12beb9 2%,#02bac5 3%,#07b5cf 4%,#15afd9 5%,#1ea7e1 10%,#1caadf 15%,#11b1d6 20%,#03b7cc 24%,#04bbc2 28%,#16bfb7 31.5%,#27c2ac 35%,#37c898 42%,#2fc5a2 50%,#21c1b0 60%,#12beb9 70%,#04bbc2 80%,#01b8ca 90%,#11b1d6 95%,#1caadf 100%);-webkit-mask-image:linear-gradient(90deg,transparent 0,#000 49.480%);mask-image:linear-gradient(90deg,transparent 0,#000 49.480%)"></i>
<i style="left:523.38px;width:96.16px;background:linear-gradient(#05b6ce 0%,#17aeda 0.67%,#1fa5e2 1.33%,#259ce7 2%,#259ce7 5%,#22a1e4 10%,#1caadf 17%,#13b0d7 21%,#05b6ce 25%,#04bbc2 35%,#0abdbd 45%,#0abdbd 55%,#12beb9 65%,#1ac0b5 75%,#12beb9 85%,#01b9c6 92%,#05b6ce 100%);-webkit-mask-image:linear-gradient(90deg,transparent 0,#000 49.480%);mask-image:linear-gradient(90deg,transparent 0,#000 49.480%)"></i>
<i style="left:570.95px;width:96.16px;background:linear-gradient(#1caadf 0%,#23a0e5 0.67%,#2797eb 1.33%,#2d8cf3 2%,#2e83f9 3.5%,#347afd 5%,#2f81fa 8%,#2d8cf3 12%,#2994ed 16%,#259ce7 20%,#21a3e3 24%,#1caadf 28%,#0ab4d2 38%,#01b9c6 50%,#0abdbd 60%,#21c1b0 70%,#2cc4a7 80%,#27c2ac 90%,#12beb9 100%);-webkit-mask-image:linear-gradient(90deg,transparent 0,#000 49.480%);mask-image:linear-gradient(90deg,transparent 0,#000 49.480%)"></i>
<i style="left:618.53px;width:96.16px;background:linear-gradient(#259ce7 0%,#2b91ef 0.67%,#2e86f7 1.33%,#347afd 2%,#406cfe 3%,#465ffb 4%,#4755f6 6%,#465efb 7%,#4367fd 8%,#3876fe 12%,#2f81fa 16%,#2d8cf3 20%,#2797eb 25%,#22a1e4 30%,#1da9e0 35%,#15afd9 40%,#03b7cc 50%,#0abdbd 60%,#1ec0b2 65%,#2cc4a7 70%,#37c898 80%,#37c898 90%,#2cc4a7 100%);-webkit-mask-image:linear-gradient(90deg,transparent 0,#000 49.480%);mask-image:linear-gradient(90deg,transparent 0,#000 49.480%)"></i>
<i style="left:666.11px;width:96.16px;background:linear-gradient(#2d8cf3 0%,#2f80fa 0.67%,#3a74fe 1.33%,#4367fd 2%,#475bf9 2.67%,#484ff2 3.33%,#4743e7 4%,#463adc 5%,#4433cc 6%,#463adc 7.5%,#4743e7 9%,#484cef 11%,#4755f6 13%,#465efb 16.5%,#4367fd 20%,#3974fe 24%,#2f81fa 28%,#2d8cf3 31.5%,#2895ec 35%,#23a0e5 40%,#1caadf 45%,#0ab4d2 52%,#04bbc2 60%,#1ec0b2 65%,#2fc5a2 70%,#3eca8f 80%,#41ca8c 90%,#33c69d 100%);-webkit-mask-image:linear-gradient(90deg,transparent 0,#000 49.480%);mask-image:linear-gradient(90deg,transparent 0,#000 49.480%)"></i>
<i style="left:713.69px;width:96.16px;background:linear-gradient(#347afd 0%,#406dfe 0.67%,#4661fc 1.33%,#4755f6 2%,#4849ed 2.67%,#463de0 3.33%,#4433cc 4%,#412dbb 5%,#3e26a8 6%,#3e26a8 14%,#412dbb 16%,#4433cc 18%,#463adc 20%,#4743e7 22%,#4850f2 24.5%,#475cfa 27%,#416bfe 30%,#347afd 33%,#2e87f7 36.5%,#2a92ee 40%,#249de7 44%,#1ea7e1 48%,#17aeda 51.5%,#0ab4d2 55%,#04bbc2 62%,#1ec0b2 66%,#2fc5a2 70%,#41ca8c 78%,#48cb86 88%,#37c898 100%);-webkit-mask-image:linear-gradient(90deg,transparent 0,#000 49.480%);mask-image:linear-gradient(90deg,transparent 0,#000 49.480%)"></i>
<i style="left:761.27px;width:96.16px;background:linear-gradient(#4367fd 0%,#475bf9 0.67%,#484ff2 1.33%,#4743e7 2%,#4538d7 2.67%,#422fc1 3.33%,#3e26a8 4%,#3e26a8 30%,#412dbb 31.5%,#4433cc 33%,#463ee1 35%,#484aee 37%,#4854f5 38.67%,#465dfa 40.33%,#4367fd 42%,#3d71ff 44%,#327bfc 46%,#2e85f8 48%,#2c8ff1 50.33%,#2699ea 52.67%,#22a1e4 55%,#1aabdd 58.5%,#0ab4d2 62%,#04bbc2 68%,#1ac0b5 71.5%,#2cc4a7 75%,#37c898 78.5%,#48cb86 82%,#58cc79 88%,#48cb86 95%,#3bc992 100%);-webkit-mask-image:linear-gradient(90deg,transparent 0,#000 49.480%);mask-image:linear-gradient(90deg,transparent 0,#000 49.480%)"></i>
<i style="left:808.85px;width:96.16px;background:linear-gradient(#4367fd 0%,#475bf9 0.67%,#484ff2 1.33%,#4743e7 2%,#4538d7 2.67%,#422fc1 3.33%,#3e26a8 4%,#3e26a8 38%,#422ebe 40%,#4536d3 42%,#4741e5 44%,#484ef1 46%,#475cfa 48.5%,#416bfe 51%,#3876fe 53%,#2f81fa 55%,#2d8cf3 57%,#2994ed 59%,#259de7 61%,#20a4e3 63%,#19addc 65.5%,#0ab4d2 68%,#04bbc2 73%,#1ec0b2 75.5%,#2fc5a2 78%,#41ca8c 81%,#60cd72 84%,#58cc79 88%,#48cb86 95%,#37c898 100%);-webkit-mask-image:linear-gradient(90deg,transparent 0,#000 49.480%);mask-image:linear-gradient(90deg,transparent 0,#000 49.480%)"></i>
<i style="left:856.43px;width:96.16px;background:linear-gradient(#4367fd 0%,#475bf9 0.67%,#484ff2 1.33%,#4743e7 2%,#4538d7 2.67%,#422fc1 3.33%,#3e26a8 4%,#3e26a8 48%,#422ebe 50%,#4536d3 52%,#4741e5 53.5%,#484ef1 55%,#475af9 57%,#4367fd 59%,#3d71ff 60.67%,#327bfc 62.33%,#2e85f8 64%,#2a92ee 66.5%,#249fe6 69%,#1da9e0 71.5%,#11b1d6 74%,#01b8c8 76.5%,#12beb9 79%,#29c3a9 81.5%,#37c898 84%,#41ca8c 90%,#33c69d 100%);-webkit-mask-image:linear-gradient(90deg,transparent 0,#000 49.480%);mask-image:linear-gradient(90deg,transparent 0,#000 49.480%)"></i>
<i style="left:904.01px;width:96.16px;background:linear-gradient(#4755f6 0%,#484cef 1%,#4743e7 2%,#4538d7 2.67%,#422fc1 3.33%,#3e26a8 4%,#3e26a8 55%,#422ebe 56.5%,#4536d3 58%,#4741e5 59.5%,#484ef1 61%,#475af9 63%,#4367fd 65%,#3d71ff 66.67%,#327bfc 68.33%,#2e85f8 70%,#2c8ff1 71.67%,#2699ea 73.33%,#22a1e4 75%,#1aabdd 77%,#0ab4d2 79%,#01b9c6 81.5%,#12beb9 84%,#27c2ac 87%,#33c69d 90%,#2fc5a2 100%);-webkit-mask-image:linear-gradient(90deg,transparent 0,#000 49.480%);mask-image:linear-gradient(90deg,transparent 0,#000 49.480%)"></i>
<i style="left:951.59px;width:96.16px;background:linear-gradient(#4755f6 0%,#484cef 1%,#4743e7 2%,#4538d7 2.67%,#422fc1 3.33%,#3e26a8 4%,#3e26a8 53%,#422ebe 55%,#4536d3 57%,#473fe3 59%,#484aee 61%,#4757f7 63.5%,#4563fd 66%,#406dfe 68%,#3677fe 70%,#2f81fa 72%,#2d8cf3 73.67%,#2895ec 75.33%,#249fe6 77%,#1da9e0 79%,#11b1d6 81%,#03b7cc 83.5%,#04bbc2 86%,#1ac0b5 92%,#12beb9 100%);-webkit-mask-image:linear-gradient(90deg,transparent 0,#000 49.480%);mask-image:linear-gradient(90deg,transparent 0,#000 49.480%)"></i>
<i style="left:999.17px;width:47.58px;background:linear-gradient(#4755f6 0%,#484cef 1%,#4743e7 2%,#4538d7 2.67%,#422fc1 3.33%,#3e26a8 4%,#3e26a8 52%,#412dbb 54.5%,#4433cc 57%,#463adc 59.5%,#4743e7 62%,#4850f2 64.5%,#475cfa 67%,#4367fd 69%,#3b72ff 71%,#317efb 73%,#2d88f6 74.67%,#2a92ee 76.33%,#259ce7 78%,#1fa6e2 80%,#15afd9 82%,#0ab4d2 84.5%,#01b8ca 87%,#01b9c6 93%,#01b8ca 100%);-webkit-mask-image:linear-gradient(90deg,transparent 0,#000 100.000%);mask-image:linear-gradient(90deg,transparent 0,#000 100.000%)"></i>
</div>
<div class="cb" style="left:2396.30px;top:259.30px;width:28.30px;height:194.00px;background:linear-gradient(#f9fb15 0.0%,#f6ef20 3.1%,#f5e327 6.2%,#f9d62d 9.4%,#feca33 12.5%,#febe3c 15.6%,#f1ba37 18.8%,#debc2a 21.9%,#c8c129 25.0%,#afc637 28.1%,#94ca4a 31.2%,#77cc60 34.4%,#5ccc76 37.5%,#44ca8a 40.6%,#34c79c 43.8%,#28c2ab 46.9%,#12beb9 50.0%,#01b9c6 53.1%,#0cb3d3 56.2%,#1aacdd 59.4%,#21a3e3 62.5%,#269ae9 65.6%,#2c90f0 68.8%,#2e85f8 71.9%,#347afd 75.0%,#3f6efe 78.1%,#4562fc 81.2%,#4757f7 84.4%,#484cef 87.5%,#4741e5 90.6%,#4536d5 93.8%,#422ebf 96.9%,#3e26a8 100.0%)"></div>
<div class="p" style="left:89.00px;top:490.80px;width:1046.75px;height:193.90px">
<i style="left:0;width:96.16px;background:linear-gradient(#b0c636 0%,#9fc942 4%,#7acc5d 8%,#60cd72 10%,#48cb86 12%,#39c895 13.5%,#2fc5a2 15%,#24c2ae 16.5%,#12beb9 18%,#01b8ca 20%,#0ab4d2 21.5%,#15afd9 23%,#20a4e3 28%,#259de7 30.33%,#2994ed 32.67%,#2d8cf3 35%,#2f81fa 38.5%,#3876fe 42%,#2f81fa 50%,#2d8af4 54%,#2a92ee 58%,#2895ec 65%,#2c8ff1 72%,#2e87f7 76%,#317efb 80%,#3876fe 85%,#3f6eff 90%,#4367fd 100%)"></i>
<i style="left:0.00px;width:191.32px;background:linear-gradient(#f5ba3a 0%,#eaba31 3%,#debd29 4.5%,#d0c027 6%,#b9c431 7.5%,#9fc942 9%,#88cb53 10.5%,#71cd64 12%,#54cc7d 13.5%,#3bc992 15%,#2fc5a2 16.5%,#21c1b0 18%,#0abdbd 19.5%,#01b8ca 21%,#0ab4d2 23%,#15afd9 25%,#20a4e3 30%,#269be8 32.33%,#2c90f0 34.67%,#2e85f8 37%,#347afd 40%,#3f6eff 43%,#3b72ff 50%,#347afd 54%,#2f81fa 58%,#2d88f6 68%,#2f81fa 78%,#3876fe 88%,#3f6eff 100%);-webkit-mask-image:linear-gradient(90deg,transparent 0,#000 49.739%);mask-image:linear-gradient(90deg,transparent 0,#000 49.739%)"></i>
<i style="left:95.16px;width:191.32px;background:linear-gradient(#f6e028 0%,#fad42e 2%,#feca33 3.5%,#fec13a 5%,#f8ba3d 6.5%,#eaba31 8%,#dabd28 9.5%,#c8c129 11%,#acc738 12.5%,#8dcb4f 14%,#74cc62 15%,#5dcc75 16%,#48cb86 17%,#33c69d 18.5%,#21c1b0 20%,#0abdbd 21.5%,#01b8ca 23%,#0eb3d4 25%,#19addc 27%,#22a1e4 32%,#2797eb 35%,#2d8cf3 38%,#2f81fa 41.5%,#3876fe 45%,#4367fd 52%,#4367fd 60%,#3f6eff 70%,#3b72ff 80%,#3f6eff 90%,#4367fd 100%);-webkit-mask-image:linear-gradient(90deg,transparent 0,#000 49.739%);mask-image:linear-gradient(90deg,transparent 0,#000 49.739%)"></i>
<i style="left:190.32px;width:191.32px;background:linear-gradient(#f7f31c 0%,#f5e825 3%,#f8da2b 4.5%,#fdcc32 6%,#fec437 7.5%,#fdbd3d 9%,#f0ba36 10.5%,#debd29 12%,#cbc129 13%,#b6c532 14%,#9fc942 15%,#7acc5d 16.5%,#58cc79 18%,#3bc992 19.5%,#2cc4a7 21%,#16bfb7 22.5%,#01b9c6 24%,#07b5d0 26%,#15afd9 28%,#1da9e0 30.5%,#22a1e4 33%,#269ae9 35.33%,#2b91ef 37.67%,#2d88f6 40%,#317efb 44%,#3b72ff 48%,#416bfe 51.5%,#4563fd 55%,#475cfa 62%,#465ffb 70%,#4563fd 80%,#465ffb 90%,#475cfa 100%);-webkit-mask-image:linear-gradient(90deg,transparent 0,#000 49.739%);mask-image:linear-gradient(90deg,transparent 0,#000 49.739%)"></i>
<i style="left:285.48px;width:191.32px;background:linear-gradient(#f9fb15 0%,#f7f31c 4%,#f5e427 5.5%,#fad42e 7%,#feca33 8.5%,#fec13a 10%,#f5ba3a 11.5%,#e4bb2c 13%,#ccc028 14.5%,#b0c636 16%,#8dcb4f 17.5%,#68cd6b 19%,#50cc80 20%,#3bc992 21%,#2fc5a2 22%,#1ec0b2 23.5%,#04bbc2 25%,#03b7cc 27%,#11b1d6 29%,#1aabdd 31.5%,#20a4e3 34%,#259ce7 37%,#2a92ee 40%,#2d88f6 44%,#317efb 48%,#3876fe 52%,#3f6eff 56%,#4367fd 65%,#4563fd 75%,#465ffb 85%,#465ffb 92%,#4563fd 100%);-webkit-mask-image:linear-gradient(90deg,transparent 0,#000 49.739%);mask-image:linear-gradient(90deg,transparent 0,#000 49.739%)"></i>
<i style="left:380.64px;width:191.32px;background:linear-gradient(#f9fb15 0%,#f7f31c 5%,#f5e427 6.5%,#fad42e 8%,#feca33 9.5%,#fec13a 11%,#f2ba38 12.5%,#debd29 14%,#cbc129 15%,#b6c532 16%,#9fc942 17%,#7acc5d 18.5%,#58cc79 20%,#3bc992 21.5%,#2cc4a7 23%,#1ac0b5 24.5%,#04bbc2 26%,#03b7cc 28%,#11b1d6 30%,#1caadf 33%,#22a1e4 36%,#2797eb 39%,#2d8cf3 42%,#317efb 50%,#3b72ff 60%,#416bfe 70%,#4367fd 80%,#416bfe 90%,#3b72ff 100%);-webkit-mask-image:linear-gradient(90deg,transparent 0,#000 49.739%);mask-image:linear-gradient(90deg,transparent 0,#000 49.739%)"></i>
<i style="left:475.80px;width:191.32px;background:linear-gradient(#f9fb15 0%,#f9fb15 5%,#f5ee21 6%,#f6e028 7%,#fbd22f 8.5%,#fec437 10%,#fabb3d 11.5%,#eaba31 13%,#d7be28 14.5%,#c1c32d 16%,#a3c83f 17.5%,#84cc56 19%,#64cd6f 20.5%,#48cb86 22%,#35c79a 23.5%,#27c2ac 25%,#12beb9 26.5%,#01b9c6 28%,#11b1d6 32%,#1aabdd 35%,#20a4e3 38%,#249de7 41.5%,#2895ec 45%,#2d8df2 48.5%,#2e85f8 52%,#327cfc 56%,#3b72ff 60%,#416bfe 65%,#4563fd 70%,#465ffb 78%,#4367fd 88%,#3d70ff 94%,#347afd 100%);-webkit-mask-image:linear-gradient(90deg,transparent 0,#000 49.739%);mask-image:linear-gradient(90deg,transparent 0,#000 49.739%)"></i>
<i style="left:570.95px;width:191.32px;background:linear-gradient(#f9fb15 0%,#f6f020 3%,#f5e227 4.5%,#fad42e 6%,#feca33 7.5%,#fec13a 9%,#f5ba3a 10.5%,#e4bb2c 12%,#d7be28 14%,#c8c129 16%,#acc738 18%,#8dcb4f 20%,#74cc62 21.33%,#5dcc75 22.67%,#48cb86 24%,#35c79a 26%,#27c2ac 28%,#12beb9 30%,#01b9c6 32%,#11b1d6 36%,#1aabdd 39%,#20a4e3 42%,#259ce7 46%,#2a92ee 50%,#2d88f6 54%,#317efb 58%,#3d70ff 61.5%,#4563fd 65%,#4758f8 72%,#4563fd 80%,#406cfe 85%,#3876fe 90%,#2f81fa 100%);-webkit-mask-image:linear-gradient(90deg,transparent 0,#000 49.739%);mask-image:linear-gradient(90deg,transparent 0,#000 49.739%)"></i>
<i style="left:666.11px;width:191.32px;background:linear-gradient(#fad42e 0%,#fdcc32 1%,#fec437 2%,#fabb3d 5%,#edba33 6.5%,#debd29 8%,#d0c027 10%,#c1c32d 12%,#b0c636 14%,#9fc942 16%,#88cb53 18%,#71cd64 20%,#58cc79 22.5%,#41ca8c 25%,#33c69d 27.5%,#27c2ac 30%,#12beb9 32.5%,#01b9c6 35%,#11b1d6 40%,#1aabdd 43%,#20a4e3 46%,#259ce7 50%,#2a92ee 54%,#2e87f7 58%,#347afd 62%,#406cfe 66%,#465ffb 70%,#4851f4 76%,#475cfa 85%,#4465fd 88.5%,#3f6eff 92%,#3876fe 96%,#317efb 100%);-webkit-mask-image:linear-gradient(90deg,transparent 0,#000 49.739%);mask-image:linear-gradient(90deg,transparent 0,#000 49.739%)"></i>
<i style="left:761.27px;width:191.32px;background:linear-gradient(#f5ba3a 0%,#debd29 2%,#ccc028 3.5%,#b9c431 5%,#9fc942 7%,#84cc56 9%,#6dcd68 11%,#58cc79 13%,#48cb86 15.5%,#3bc992 18%,#2fc5a2 25%,#27c2ac 28.5%,#1ac0b5 32%,#0abdbd 35%,#01b9c6 38%,#0ab4d2 43%,#1caadf 48%,#21a3e3 51.5%,#259ce7 55%,#2994ed 58.5%,#2d8cf3 62%,#2f81fa 66%,#3876fe 70%,#4369fe 74%,#475cfa 78%,#4758f8 85%,#4563fd 92%,#3f6eff 96%,#347afd 100%);-webkit-mask-image:linear-gradient(90deg,transparent 0,#000 49.739%);mask-image:linear-gradient(90deg,transparent 0,#000 49.739%)"></i>
<i style="left:856.43px;width:191.32px;background:linear-gradient(#b0c636 0%,#9fc942 3%,#7acc5d 6%,#60cd72 7.5%,#48cb86 9%,#39c895 10.5%,#2fc5a2 12%,#24c2ae 14%,#12beb9 16%,#02bac4 18%,#05b6ce 20%,#15afd9 25%,#15afd9 32%,#05b6ce 40%,#01b9c6 47%,#05b6ce 53%,#13b0d7 56.5%,#1caadf 60%,#22a1e4 64%,#2699ea 68%,#2c8ff1 71.5%,#2e85f8 75%,#327bfc 77.33%,#3d71ff 79.67%,#4367fd 82%,#465ffb 85%,#4758f8 88%,#465ffb 94%,#4367fd 97%,#3f6eff 100%);-webkit-mask-image:linear-gradient(90deg,transparent 0,#000 49.739%);mask-image:linear-gradient(90deg,transparent 0,#000 49.739%)"></i>
<i style="left:951.59px;width:95.16px;background:linear-gradient(#9fc942 0%,#8dcb4f 3%,#71cd64 4.5%,#58cc79 6%,#44cb89 7.5%,#37c898 9%,#2ec4a5 10.5%,#21c1b0 12%,#0ebdbb 13.5%,#01b9c6 15%,#11b1d6 18%,#1ea7e1 22%,#22a1e4 25%,#259ce7 28%,#2c8ff1 35%,#2699ea 38.5%,#22a1e4 42%,#19addc 50%,#1caadf 58%,#22a1e4 65%,#2895ec 72%,#2d8cf3 75%,#2f81fa 78%,#3974fe 81%,#4367fd 84%,#475cfa 90%,#4367fd 100%);-webkit-mask-image:linear-gradient(90deg,transparent 0,#000 100.000%);mask-image:linear-gradient(90deg,transparent 0,#000 100.000%)"></i>
</div>
<div class="cb" style="left:1149.40px;top:489.40px;width:28.50px;height:195.50px;background:linear-gradient(#f9fb15 0.0%,#f6ef20 3.1%,#f5e327 6.2%,#f9d62d 9.4%,#feca33 12.5%,#febe3c 15.6%,#f1ba37 18.8%,#debc2a 21.9%,#c8c129 25.0%,#afc637 28.1%,#94ca4a 31.2%,#77cc60 34.4%,#5ccc76 37.5%,#44ca8a 40.6%,#34c79c 43.8%,#28c2ab 46.9%,#12beb9 50.0%,#01b9c6 53.1%,#0cb3d3 56.2%,#1aacdd 59.4%,#21a3e3 62.5%,#269ae9 65.6%,#2c90f0 68.8%,#2e85f8 71.9%,#347afd 75.0%,#3f6efe 78.1%,#4562fc 81.2%,#4757f7 84.4%,#484cef 87.5%,#4741e5 90.6%,#4536d5 93.8%,#422ebf 96.9%,#3e26a8 100.0%)"></div>
<div class="p" style="left:1336.25px;top:490.80px;width:1046.75px;height:193.90px">
<i style="left:0;width:96.16px;background:linear-gradient(#2f81fa 0%,#2e85f8 1%,#2b91ef 1.75%,#259ce7 2.5%,#1fa6e2 3.5%,#15afd9 4.5%,#05b6ce 6.25%,#04bbc2 8%,#1ec0b2 10%,#2fc5a2 12%,#41ca8c 16%,#50cc80 22%,#50cc80 30%,#54cc7d 40%,#58cc79 50%,#48cb86 57%,#37c898 63%,#27c2ac 68%,#12beb9 70.5%,#01b9c6 73%,#11b1d6 78%,#1ea7e1 85%,#249fe6 92%,#2895ec 100%)"></i>
<i style="left:0.00px;width:191.32px;background:linear-gradient(#2f81fa 0%,#2e85f8 1%,#2a92ee 1.75%,#249fe6 2.5%,#1da9e0 3.5%,#11b1d6 4.5%,#01b8c8 6.25%,#12beb9 8%,#27c2ac 10%,#33c69d 12%,#48cb86 16%,#58cc79 22%,#54cc7d 30%,#50cc80 40%,#48cb86 50%,#3bc992 57%,#33c69d 63%,#2cc4a7 65.5%,#21c1b0 68%,#0ebdbb 70.5%,#01b9c6 73%,#11b1d6 78%,#1ea7e1 85%,#22a1e4 88.5%,#259ce7 92%,#2c8ff1 100%);-webkit-mask-image:linear-gradient(90deg,transparent 0,#000 49.739%);mask-image:linear-gradient(90deg,transparent 0,#000 49.739%)"></i>
<i style="left:95.16px;width:191.32px;background:linear-gradient(#2e85f8 0%,#2d8cf3 1%,#2994ed 1.5%,#259de7 2%,#20a4e3 2.5%,#17aeda 3.5%,#05b6ce 4.5%,#02bbc3 5.67%,#15bfb8 6.83%,#27c2ac 8%,#33c69d 9.5%,#41ca8c 11%,#54cc7d 13%,#68cd6b 15%,#68cd6b 20%,#58cc79 28%,#41ca8c 38%,#37c898 48%,#2fc5a2 56%,#27c2ac 63%,#1ac0b5 66%,#0abdbd 69%,#05b6ce 74%,#15afd9 80%,#20a4e3 87%,#249de7 90.5%,#2895ec 94%,#2c8ff1 97%,#2d88f6 100%);-webkit-mask-image:linear-gradient(90deg,transparent 0,#000 49.739%);mask-image:linear-gradient(90deg,transparent 0,#000 49.739%)"></i>
<i style="left:190.32px;width:191.32px;background:linear-gradient(#347afd 0%,#2e85f8 1.5%,#2a92ee 2.25%,#249fe6 3%,#1da9e0 4%,#11b1d6 5%,#03b7cc 6.5%,#04bbc2 8%,#1ac0b5 10%,#2cc4a7 12%,#3bc992 17%,#3eca8f 24%,#3eca8f 30%,#3bc992 40%,#35c79a 50%,#2fc5a2 58%,#21c1b0 65%,#12beb9 68%,#04bbc2 71%,#05b6ce 76%,#15afd9 82%,#1ea7e1 88%,#249fe6 94%,#2a92ee 100%);-webkit-mask-image:linear-gradient(90deg,transparent 0,#000 49.739%);mask-image:linear-gradient(90deg,transparent 0,#000 49.739%)"></i>
<i style="left:285.48px;width:191.32px;background:linear-gradient(#4367fd 0%,#3f6eff 3%,#327bfc 3.67%,#2e87f7 4.33%,#2a92ee 5%,#269be8 6%,#21a2e4 7%,#1caadf 8%,#13b0d7 9.5%,#05b6ce 11%,#02bac4 13%,#12beb9 15%,#21c1b0 17.5%,#2cc4a7 20%,#33c69d 28%,#33c69d 40%,#2fc5a2 50%,#2cc4a7 60%,#1ac0b5 67%,#04bbc2 73%,#05b6ce 78%,#15afd9 84%,#1caadf 90%,#22a1e4 100%);-webkit-mask-image:linear-gradient(90deg,transparent 0,#000 49.739%);mask-image:linear-gradient(90deg,transparent 0,#000 49.739%)"></i>
<i style="left:380.64px;width:143.74px;background:linear-gradient(#4367fd 0%,#475cfa 2%,#475cfa 4%,#4368fe 5%,#3975fe 6%,#2f81fa 7%,#2d8df2 8%,#2798ea 9%,#22a1e4 10%,#1aabdd 11.5%,#0ab4d2 13%,#01b9c6 16%,#12beb9 18%,#27c2ac 20%,#37c898 25%,#37c898 32%,#33c69d 40%,#2fc5a2 50%,#29c3a9 60%,#1ac0b5 66%,#04bbc2 71%,#05b6ce 76%,#15afd9 82%,#1caadf 89%,#22a1e4 100%);-webkit-mask-image:linear-gradient(90deg,transparent 0,#000 66.203%);mask-image:linear-gradient(90deg,transparent 0,#000 66.203%)"></i>
<i style="left:475.80px;width:96.16px;background:linear-gradient(#3f6eff 0%,#4367fd 3%,#3a74fe 4%,#2f80fa 5%,#2d8cf3 6%,#2797eb 7%,#23a1e5 8%,#1caadf 9%,#0eb3d4 10.5%,#01b9c6 12%,#12beb9 15%,#27c2ac 18%,#37c898 25%,#3bc992 35%,#33c69d 45%,#2cc4a7 55%,#1ac0b5 62%,#04bbc2 68%,#05b6ce 73%,#15afd9 80%,#1ea7e1 88%,#249fe6 100%);-webkit-mask-image:linear-gradient(90deg,transparent 0,#000 49.480%);mask-image:linear-gradient(90deg,transparent 0,#000 49.480%)"></i>
<i style="left:523.38px;width:143.74px;background:linear-gradient(#2d8cf3 0%,#2797eb 0.67%,#23a0e5 1.33%,#1caadf 2%,#0eb2d4 2.67%,#01b9c7 3.33%,#12beb9 4%,#2cc4a7 5.5%,#3bc992 7%,#48cb86 8.5%,#58cc79 10%,#6dcd68 12.5%,#84cc56 15%,#96ca48 22%,#8dcb4f 28%,#7acc5d 31.5%,#68cd6b 35%,#58cc79 38.5%,#48cb86 42%,#33c69d 50%,#27c2ac 58%,#1ac0b5 61.5%,#0abdbd 65%,#05b6ce 70%,#11b1d6 74%,#19addc 78%,#22a1e4 88%,#2895ec 100%);-webkit-mask-image:linear-gradient(90deg,transparent 0,#000 33.101%);mask-image:linear-gradient(90deg,transparent 0,#000 33.101%)"></i>
<i style="left:570.95px;width:191.32px;background:linear-gradient(#12beb9 0%,#2bc3a8 0.5%,#39c895 1%,#52cc7e 1.5%,#71cd64 2%,#8dcb4f 2.67%,#a7c73c 3.33%,#c1c32d 4%,#d3bf27 5.5%,#e4bb2c 7%,#f0ba36 11%,#eaba31 15%,#d7be28 20%,#c8c129 22.5%,#b9c431 25%,#a8c73b 27.5%,#96ca48 30%,#7fcc5a 33%,#68cd6b 36%,#54cc7d 39%,#41ca8c 42%,#2fc5a2 48%,#27c2ac 51.5%,#1ac0b5 55%,#04bbc2 61%,#05b6ce 66%,#15afd9 72%,#1ea7e1 78%,#22a1e4 82%,#259ce7 86%,#2c8ff1 93%,#2e85f8 100%);-webkit-mask-image:linear-gradient(90deg,transparent 0,#000 49.739%);mask-image:linear-gradient(90deg,transparent 0,#000 49.739%)"></i>
<i style="left:666.11px;width:191.32px;background:linear-gradient(#48cb86 0%,#66cd6d 0.38%,#88cb53 0.75%,#a9c73a 1.12%,#c8c129 1.5%,#e1bc2b 2.75%,#f5ba3a 4%,#febf3b 8%,#fdbd3d 12%,#f0ba36 16%,#debd29 20%,#d0c027 22.5%,#c1c32d 25%,#b0c636 27.5%,#9fc942 30%,#88cb53 33%,#71cd64 36%,#5ccc76 39%,#48cb86 42%,#39c895 45%,#2fc5a2 48%,#24c2ae 51.5%,#12beb9 55%,#01b8ca 62%,#0ab4d2 66%,#15afd9 70%,#20a4e3 78%,#2699ea 86%,#2a92ee 89.5%,#2d8cf3 93%,#317efb 100%);-webkit-mask-image:linear-gradient(90deg,transparent 0,#000 49.739%);mask-image:linear-gradient(90deg,transparent 0,#000 49.739%)"></i>
<i style="left:761.27px;width:191.32px;background:linear-gradient(#71cd64 0%,#94ca4a 0.38%,#b4c533 0.75%,#d1bf27 1.12%,#eaba31 1.5%,#f8ba3d 2.75%,#fec13a 4%,#fdbd3d 7%,#f0ba36 11%,#debd29 16%,#d0c027 19%,#c1c32d 22%,#b0c636 25%,#9fc942 28%,#7acc5d 35%,#68cd6b 38.5%,#58cc79 42%,#48cb86 45%,#3bc992 48%,#31c6a0 51.5%,#27c2ac 55%,#16bfb7 58.5%,#04bbc2 62%,#05b6ce 69%,#15afd9 76%,#20a4e3 84%,#2699ea 92%,#2a92ee 96%,#2d8cf3 100%);-webkit-mask-image:linear-gradient(90deg,transparent 0,#000 49.739%);mask-image:linear-gradient(90deg,transparent 0,#000 49.739%)"></i>
<i style="left:856.43px;width:191.32px;background:linear-gradient(#12beb9 0%,#2bc3a8 0.38%,#39c895 0.75%,#51cc7f 1.12%,#71cd64 1.5%,#91ca4c 2.75%,#b0c636 4%,#b0c636 8%,#a8c73b 14%,#9ac945 20%,#88cb53 28%,#71cd64 36%,#58cc79 44%,#48cb86 48%,#3bc992 52%,#2cc4a7 60%,#21c1b0 63.5%,#12beb9 67%,#01b8ca 73%,#11b1d6 80%,#1ea7e1 88%,#22a1e4 94%,#259ce7 100%);-webkit-mask-image:linear-gradient(90deg,transparent 0,#000 49.739%);mask-image:linear-gradient(90deg,transparent 0,#000 49.739%)"></i>
<i style="left:951.59px;width:95.16px;background:linear-gradient(#259ce7 0%,#1ea7e1 0.38%,#13b0d7 0.75%,#01b8c9 1.12%,#12beb9 1.5%,#29c3aa 2.33%,#35c799 3.17%,#48cb86 4%,#54cc7d 8%,#60cd72 14%,#68cd6b 20%,#68cd6b 30%,#60cd72 40%,#50cc80 48%,#3bc992 56%,#2cc4a7 63%,#21c1b0 66%,#12beb9 69%,#01b8ca 75%,#11b1d6 82%,#1caadf 90%,#20a4e3 95%,#249fe6 100%);-webkit-mask-image:linear-gradient(90deg,transparent 0,#000 100.000%);mask-image:linear-gradient(90deg,transparent 0,#000 100.000%)"></i>
</div>
<div class="cb" style="left:2396.90px;top:489.40px;width:28.00px;height:195.50px;background:linear-gradient(#f9fb15 0.0%,#f6ef20 3.1%,#f5e327 6.2%,#f9d62d 9.4%,#feca33 12.5%,#febe3c 15.6%,#f1ba37 18.8%,#debc2a 21.9%,#c8c129 25.0%,#afc637 28.1%,#94ca4a 31.2%,#77cc60 34.4%,#5ccc76 37.5%,#44ca8a 40.6%,#34c79c 43.8%,#28c2ab 46.9%,#12beb9 50.0%,#01b9c6 53.1%,#0cb3d3 56.2%,#1aacdd 59.4%,#21a3e3 62.5%,#269ae9 65.6%,#2c90f0 68.8%,#2e85f8 71.9%,#347afd 75.0%,#3f6efe 78.1%,#4562fc 81.2%,#4757f7 84.4%,#484cef 87.5%,#4741e5 90.6%,#4536d5 93.8%,#422ebf 96.9%,#3e26a8 100.0%)"></div>
<div class="p" style="left:89.00px;top:722.00px;width:1046.75px;height:193.90px">
<i style="left:0;width:96.16px;background:linear-gradient(#05b6ce 0%,#13b0d7 0.75%,#1caadf 1.5%,#20a4e3 2.75%,#249fe6 4%,#20a4e3 8%,#1aabdd 10%,#11b1d6 12%,#01b8c8 14%,#12beb9 16%,#27c2ac 18%,#33c69d 20%,#3eca8f 22.5%,#50cc80 25%,#64cd6f 30%,#60cd72 35%,#4ccb83 37.5%,#3bc992 40%,#2fc5a2 42%,#21c1b0 44%,#0abdbd 46%,#01b8ca 48%,#0ab4d2 50.5%,#15afd9 53%,#20a4e3 58%,#2699ea 65%,#2a92ee 72%,#2895ec 80%,#249fe6 90%,#22a1e4 100%)"></i>
<i style="left:0.00px;width:191.32px;background:linear-gradient(#05b6ce 0%,#17aeda 0.75%,#20a4e3 1.5%,#249de7 2.75%,#2895ec 4%,#249fe6 7%,#1ea7e1 8.5%,#15afd9 10%,#05b6ce 11.5%,#04bbc2 13%,#1ec0b2 15%,#2fc5a2 17%,#3eca8f 19.5%,#58cc79 22%,#6dcd68 28%,#60cd72 33%,#4ccb83 35.5%,#3bc992 38%,#31c6a0 40%,#27c2ac 42%,#12beb9 44%,#01b9c6 46%,#11b1d6 51%,#1ea7e1 57%,#23a0e5 60.5%,#2699ea 64%,#2c8ff1 72%,#2a92ee 80%,#259ce7 90%,#249fe6 100%);-webkit-mask-image:linear-gradient(90deg,transparent 0,#000 49.739%);mask-image:linear-gradient(90deg,transparent 0,#000 49.739%)"></i>
<i style="left:95.16px;width:191.32px;background:linear-gradient(#05b6ce 0%,#15afd9 1.5%,#15afd9 3%,#07b5cf 4%,#02bac5 5%,#12beb9 6%,#29c3a9 7.5%,#37c898 9%,#45cb88 10.33%,#5acc77 11.67%,#71cd64 13%,#8dcb4f 18%,#84cc56 23%,#68cd6b 28%,#54cc7d 30.5%,#41ca8c 33%,#33c69d 35.5%,#27c2ac 38%,#16bfb7 40%,#04bbc2 42%,#05b6ce 46%,#11b1d6 49%,#19addc 52%,#22a1e4 58%,#2895ec 65%,#2c8ff1 68.5%,#2d88f6 72%,#2e85f8 80%,#2c8ff1 90%,#2d8cf3 100%);-webkit-mask-image:linear-gradient(90deg,transparent 0,#000 49.739%);mask-image:linear-gradient(90deg,transparent 0,#000 49.739%)"></i>
<i style="left:190.32px;width:191.32px;background:linear-gradient(#9fc942 0%,#84cc56 0.25%,#68cd6b 0.5%,#50cc80 0.75%,#3bc992 1%,#48cb86 3%,#64cd6f 5.5%,#84cc56 8%,#9fc942 12%,#a8c73b 17%,#96ca48 22%,#7fcc5a 24.5%,#68cd6b 27%,#50cc80 29.5%,#3bc992 32%,#2fc5a2 34.5%,#21c1b0 37%,#0ebdbb 39.5%,#01b9c6 42%,#05b6ce 46%,#11b1d6 49%,#19addc 52%,#20a4e3 58%,#249de7 61.5%,#2895ec 65%,#2d8df2 68.5%,#2e85f8 72%,#2f81fa 80%,#2e85f8 90%,#2d8cf3 100%);-webkit-mask-image:linear-gradient(90deg,transparent 0,#000 49.739%);mask-image:linear-gradient(90deg,transparent 0,#000 49.739%)"></i>
<i style="left:285.48px;width:191.32px;background:linear-gradient(#fec13a 0%,#f1ba37 0.25%,#dabd28 0.5%,#bfc32e 0.75%,#9fc942 1%,#7acc5d 2.5%,#9fc942 8%,#b9c431 12%,#bdc42f 16%,#b0c636 20%,#96ca48 25%,#7acc5d 27.5%,#60cd72 30%,#44cb89 32.5%,#33c69d 35%,#27c2ac 37.5%,#12beb9 40%,#01b8ca 45%,#11b1d6 50%,#1caadf 56%,#21a3e3 59.5%,#259ce7 63%,#2994ed 66.5%,#2d8cf3 70%,#2f81fa 78%,#2f81fa 88%,#2d8cf3 100%);-webkit-mask-image:linear-gradient(90deg,transparent 0,#000 49.739%);mask-image:linear-gradient(90deg,transparent 0,#000 49.739%)"></i>
<i style="left:380.64px;width:143.74px;background:linear-gradient(#f7dc2a 0%,#fdce31 0.5%,#fec13a 1%,#f4ba39 1.38%,#e1bc2b 1.75%,#cac129 2.12%,#b0c636 2.5%,#8dcb4f 5%,#a8c73b 12%,#b0c636 17%,#a8c73b 22%,#84cc56 27%,#6dcd68 29.5%,#58cc79 32%,#3eca8f 34.5%,#2fc5a2 37%,#21c1b0 39.5%,#0abdbd 42%,#01b8ca 46%,#11b1d6 52%,#1caadf 58%,#21a3e3 61.5%,#259ce7 65%,#2994ed 68.5%,#2d8cf3 72%,#2f81fa 80%,#2e85f8 90%,#2c8ff1 100%);-webkit-mask-image:linear-gradient(90deg,transparent 0,#000 66.203%);mask-image:linear-gradient(90deg,transparent 0,#000 66.203%)"></i>
<i style="left:475.80px;width:96.16px;background:linear-gradient(#f9fb15 0%,#f6f21e 0.75%,#f5e825 1.5%,#f7db2b 2%,#fdcd31 2.5%,#fec13a 3%,#f3ba39 3.67%,#e0bc2a 4.33%,#c8c129 5%,#b4c533 6.5%,#9fc942 8%,#a8c73b 14%,#b0c636 20%,#9fc942 25%,#88cb53 27.5%,#71cd64 30%,#5ccc76 32%,#48cb86 34%,#35c79a 36%,#27c2ac 38%,#12beb9 40%,#01b9c6 42%,#0ab4d2 46%,#1caadf 52%,#20a4e3 55%,#249fe6 58%,#2895ec 61.5%,#2d8cf3 65%,#317efb 72%,#2e85f8 80%,#2a92ee 90%,#259ce7 100%);-webkit-mask-image:linear-gradient(90deg,transparent 0,#000 49.480%);mask-image:linear-gradient(90deg,transparent 0,#000 49.480%)"></i>
<i style="left:523.38px;width:143.74px;background:linear-gradient(#f9fb15 0%,#f6f020 2.5%,#f5e427 3%,#f9d82c 3.5%,#fdcc32 4%,#fdbd3d 5%,#eaba31 6%,#d3bf27 7.5%,#b9c431 9%,#b0c636 15%,#b4c533 20%,#9fc942 25%,#7acc5d 30%,#60cd72 32%,#48cb86 34%,#35c79a 36%,#27c2ac 38%,#12beb9 40%,#01b9c6 42%,#0ab4d2 46%,#1caadf 52%,#21a3e3 55%,#259ce7 58%,#2994ed 61.5%,#2d8cf3 65%,#2e83f9 68.5%,#347afd 72%,#2f81fa 80%,#2c8ff1 90%,#259ce7 100%);-webkit-mask-image:linear-gradient(90deg,transparent 0,#000 33.101%);mask-image:linear-gradient(90deg,transparent 0,#000 33.101%)"></i>
<i style="left:570.95px;width:191.32px;background:linear-gradient(#f9fb15 0%,#f9fb15 2.5%,#f5ec22 3.25%,#f7dc2a 4%,#fcd12f 4.67%,#fec735 5.33%,#fdbd3d 6%,#f0ba36 7%,#debd29 8%,#ccc028 9.5%,#b9c431 11%,#b4c533 18%,#a8c73b 23%,#8dcb4f 28%,#76cc61 30%,#60cd72 32%,#44cb89 34%,#33c69d 36%,#27c2ac 38%,#12beb9 40%,#01b8ca 44%,#0ab4d2 47%,#15afd9 50%,#20a4e3 56%,#2699ea 63%,#2a92ee 67.5%,#2d8cf3 72%,#2d88f6 82%,#2d8cf3 92%,#2d8cf3 100%);-webkit-mask-image:linear-gradient(90deg,transparent 0,#000 49.739%);mask-image:linear-gradient(90deg,transparent 0,#000 49.739%)"></i>
<i style="left:666.11px;width:191.32px;background:linear-gradient(#f9fb15 0%,#f9fb15 2.5%,#f5ee21 3.5%,#f6e028 4.5%,#fad52d 5.17%,#fdcb33 5.83%,#fec13a 6.5%,#f5ba3a 7.5%,#e4bb2c 8.5%,#d0c027 9.75%,#b9c431 11%,#9fc942 18%,#96ca48 24%,#84cc56 29%,#6dcd68 31%,#58cc79 33%,#41ca8c 35%,#33c69d 37%,#27c2ac 39%,#12beb9 41%,#01b8ca 45%,#11b1d6 50%,#1ea7e1 56%,#22a1e4 59.5%,#259ce7 63%,#2c8ff1 72%,#2e85f8 82%,#347afd 92%,#3f6eff 100%);-webkit-mask-image:linear-gradient(90deg,transparent 0,#000 49.739%);mask-image:linear-gradient(90deg,transparent 0,#000 49.739%)"></i>
<i style="left:761.27px;width:191.32px;background:linear-gradient(#f9fb15 0%,#f7f31c 2%,#f5e427 2.75%,#fad42e 3.5%,#fec636 4.25%,#fabb3d 5%,#edba33 6%,#debd29 7%,#c8c129 8.5%,#b0c636 10%,#96ca48 16%,#96ca48 22%,#84cc56 28%,#68cd6b 32%,#50cc80 34%,#3bc992 36%,#2fc5a2 38%,#21c1b0 40%,#0ebdbb 42%,#01b9c6 44%,#0ab4d2 49%,#1caadf 55%,#20a4e3 58.5%,#249fe6 62%,#2895ec 70%,#2c8ff1 75%,#2d88f6 80%,#317efb 85%,#3b72ff 90%,#4369fe 95%,#465ffb 100%);-webkit-mask-image:linear-gradient(90deg,transparent 0,#000 49.739%);mask-image:linear-gradient(90deg,transparent 0,#000 49.739%)"></i>
<i style="left:856.43px;width:191.32px;background:linear-gradient(#f9fb15 0%,#f5ee21 0.5%,#f5e128 1%,#fad42e 1.5%,#fec735 2%,#fbbc3d 2.5%,#eaba31 3%,#d9be28 3.67%,#c6c22a 4.33%,#b0c636 5%,#9ac945 6.5%,#84cc56 8%,#71cd64 10%,#60cd72 12%,#71cd64 16%,#96ca48 22%,#8dcb4f 28%,#7acc5d 30.5%,#68cd6b 33%,#50cc80 35%,#3bc992 37%,#2fc5a2 39%,#21c1b0 41%,#0ebdbb 43%,#01b9c6 45%,#0ab4d2 50%,#1caadf 56%,#22a1e4 63%,#2699ea 72%,#2a92ee 77%,#2d8cf3 82%,#2e83f9 87%,#347afd 92%,#3b72ff 100%);-webkit-mask-image:linear-gradient(90deg,transparent 0,#000 49.739%);mask-image:linear-gradient(90deg,transparent 0,#000 49.739%)"></i>
<i style="left:951.59px;width:95.16px;background:linear-gradient(#fad42e 0%,#fec735 0.33%,#fbbc3d 0.67%,#eaba31 1%,#d1bf27 1.38%,#b4c533 1.75%,#94ca4a 2.12%,#71cd64 2.5%,#5acc77 3.33%,#45cb88 4.17%,#37c898 5%,#2ec4a5 7%,#21c1b0 9%,#1ac0b5 14%,#29c3a9 16.5%,#33c69d 19%,#41ca8c 21.5%,#58cc79 24%,#60cd72 30%,#48cb86 35%,#39c895 37%,#2fc5a2 39%,#21c1b0 41%,#0abdbd 43%,#05b6ce 47%,#15afd9 53%,#1ea7e1 60%,#22a1e4 68%,#259ce7 78%,#2699ea 90%,#2699ea 100%);-webkit-mask-image:linear-gradient(90deg,transparent 0,#000 100.000%);mask-image:linear-gradient(90deg,transparent 0,#000 100.000%)"></i>
</div>
<div class="cb" style="left:1149.40px;top:721.70px;width:28.50px;height:194.00px;background:linear-gradient(#f9fb15 0.0%,#f6ef20 3.1%,#f5e327 6.2%,#f9d62d 9.4%,#feca33 12.5%,#febe3c 15.6%,#f1ba37 18.8%,#debc2a 21.9%,#c8c129 25.0%,#afc637 28.1%,#94ca4a 31.2%,#77cc60 34.4%,#5ccc76 37.5%,#44ca8a 40.6%,#34c79c 43.8%,#28c2ab 46.9%,#12beb9 50.0%,#01b9c6 53.1%,#0cb3d3 56.2%,#1aacdd 59.4%,#21a3e3 62.5%,#269ae9 65.6%,#2c90f0 68.8%,#2e85f8 71.9%,#347afd 75.0%,#3f6efe 78.1%,#4562fc 81.2%,#4757f7 84.4%,#484cef 87.5%,#4741e5 90.6%,#4536d5 93.8%,#422ebf 96.9%,#3e26a8 100.0%)"></div>
<div class="p" style="left:1336.25px;top:722.00px;width:1046.75px;height:193.90px">
<i style="left:0;width:48.58px;background:linear-gradient(#4367fd 0%,#465ffb 2%,#4367fd 4%,#3a74fe 4.67%,#2f80fa 5.33%,#2d8cf3 6%,#2797eb 6.67%,#23a0e5 7.33%,#1caadf 8%,#0eb3d4 9.5%,#01b9c6 11%,#16bfb7 13%,#2cc4a7 15%,#37c898 18.5%,#48cb86 22%,#50cc80 30%,#48cb86 40%,#33c69d 50%,#29c3a9 54%,#1ac0b5 58%,#0abdbd 61%,#01b9c6 64%,#0ab4d2 70%,#19addc 78%,#20a4e3 88%,#22a1e4 100%)"></i>
<i style="left:0.00px;width:96.16px;background:linear-gradient(#4743e7 0%,#463cde 2%,#4848ec 3%,#4755f6 4%,#465ffb 4.75%,#416bfe 5.5%,#3876fe 6.25%,#2f81fa 7%,#2c8ef1 8%,#269ae9 9%,#20a4e3 10%,#1aacdd 11%,#0fb2d4 12%,#01b8ca 13%,#0ebdbb 15.5%,#27c2ac 18%,#31c6a0 21.5%,#3bc992 25%,#41ca8c 35%,#3bc992 45%,#2cc4a7 55%,#1ec0b2 58.5%,#0abdbd 62%,#01b8ca 68%,#11b1d6 75%,#1caadf 82%,#20a4e3 90%,#22a1e4 100%);-webkit-mask-image:linear-gradient(90deg,transparent 0,#000 49.480%);mask-image:linear-gradient(90deg,transparent 0,#000 49.480%)"></i>
<i style="left:47.58px;width:96.16px;background:linear-gradient(#402bb7 0%,#3e26a8 2.5%,#412dbc 3%,#4434cf 3.5%,#463cde 4%,#4747eb 4.67%,#4851f3 5.33%,#475cfa 6%,#4269fe 7%,#3677fe 8%,#2e85f8 9%,#2c90f0 10%,#269be8 11%,#20a4e3 12%,#17aeda 13.5%,#05b6ce 15%,#04bbc2 17%,#1ac0b5 19%,#29c3a9 22%,#33c69d 25%,#3eca8f 35%,#3bc992 45%,#2fc5a2 55%,#24c2ae 58.5%,#12beb9 62%,#01b8ca 68%,#0ab4d2 74%,#19addc 82%,#1ea7e1 90%,#22a1e4 100%);-webkit-mask-image:linear-gradient(90deg,transparent 0,#000 49.480%);mask-image:linear-gradient(90deg,transparent 0,#000 49.480%)"></i>
<i style="left:95.16px;width:96.16px;background:linear-gradient(#3e26a8 0%,#3e26a8 1.5%,#422fc1 2%,#4538d7 2.5%,#4743e7 3%,#484ef1 3.5%,#4758f8 4%,#4563fd 4.5%,#3f6eff 5%,#337bfc 5.75%,#2e87f7 6.5%,#2b91ef 7.25%,#259ce7 8%,#20a4e3 9%,#19addc 10%,#0ab4d2 11%,#01b8c8 12.5%,#0abdbd 14%,#21c1b0 16%,#2fc5a2 18%,#39c895 21.5%,#48cb86 25%,#60cd72 32%,#64cd6f 40%,#58cc79 48%,#3eca8f 56%,#34c79c 59.5%,#2cc4a7 63%,#1ec0b2 66.5%,#0abdbd 70%,#03b7cc 76%,#13b0d7 83%,#1caadf 90%,#20a4e3 100%);-webkit-mask-image:linear-gradient(90deg,transparent 0,#000 49.480%);mask-image:linear-gradient(90deg,transparent 0,#000 49.480%)"></i>
<i style="left:142.74px;width:96.16px;background:linear-gradient(#4743e7 0%,#484cef 0.5%,#4755f6 1%,#4562fc 1.5%,#3d70ff 2%,#307ffb 2.5%,#2d8cf3 3%,#2797eb 3.67%,#23a0e5 4.33%,#1caadf 5%,#0eb3d4 6.5%,#01b9c6 8%,#16bfb7 9.5%,#2cc4a7 11%,#3bc992 13%,#58cc79 15%,#71cd64 17.5%,#8dcb4f 20%,#a8c73b 27%,#a8c73b 35%,#96ca48 43%,#76cc61 50%,#62cd71 53.5%,#50cc80 57%,#3eca8f 60.5%,#33c69d 64%,#29c3a9 67%,#1ac0b5 70%,#0abdbd 73%,#01b9c6 76%,#0ab4d2 83%,#17aeda 90%,#1fa6e2 100%);-webkit-mask-image:linear-gradient(90deg,transparent 0,#000 49.480%);mask-image:linear-gradient(90deg,transparent 0,#000 49.480%)"></i>
<i style="left:190.32px;width:96.16px;background:linear-gradient(#2d8cf3 0%,#2796eb 0.33%,#23a1e5 0.67%,#1caadf 1%,#0eb2d4 1.67%,#01b9c7 2.33%,#12beb9 3%,#29c3aa 3.67%,#35c79a 4.33%,#48cb86 5%,#60cd72 6%,#7acc5d 7%,#96ca48 8%,#b2c535 10%,#ccc028 12%,#e1bc2b 17%,#e7bb2e 25%,#e1bc2b 32%,#ccc028 40%,#bbc430 43.5%,#a8c73b 47%,#91ca4c 50.5%,#7acc5d 54%,#64cd6f 57.5%,#50cc80 61%,#3eca8f 64%,#33c69d 67%,#29c3a9 70%,#1ac0b5 73%,#0abdbd 76%,#01b9c6 79%,#07b5d0 86%,#13b0d7 93%,#1caadf 100%);-webkit-mask-image:linear-gradient(90deg,transparent 0,#000 49.480%);mask-image:linear-gradient(90deg,transparent 0,#000 49.480%)"></i>
<i style="left:237.90px;width:96.16px;background:linear-gradient(#2fc5a2 0%,#3eca8f 0.5%,#58cc79 1%,#7acc5d 2%,#9fc942 3%,#b9c431 4%,#d0c027 5%,#e4bb2c 6%,#fabb3d 10%,#fec13a 15%,#fec437 22%,#fec13a 30%,#f5ba3a 36%,#debd29 42%,#d0c027 45%,#c1c32d 48%,#a8c73b 51.5%,#8dcb4f 55%,#71cd64 58.5%,#58cc79 62%,#44cb89 65%,#37c898 68%,#2ec4a5 71%,#21c1b0 74%,#12beb9 77%,#04bbc2 80%,#03b7cc 87%,#0ab4d2 94%,#11b1d6 100%);-webkit-mask-image:linear-gradient(90deg,transparent 0,#000 49.480%);mask-image:linear-gradient(90deg,transparent 0,#000 49.480%)"></i>
<i style="left:285.48px;width:96.16px;background:linear-gradient(#9fc942 0%,#b6c533 0.33%,#cbc129 0.67%,#debd29 1%,#edba33 2%,#fabb3d 3%,#fec13a 5%,#fec835 7%,#fcd030 12%,#fad42e 20%,#fcd030 28%,#fec437 34%,#fcbc3d 37%,#f0ba36 40%,#e1bc2b 43%,#d0c027 46%,#bdc42f 49%,#a8c73b 52%,#91ca4c 55%,#7acc5d 58%,#60cd72 61%,#48cb86 64%,#39c895 67%,#2fc5a2 70%,#24c2ae 73%,#12beb9 76%,#01b9c6 82%,#05b6ce 90%,#0ab4d2 100%);-webkit-mask-image:linear-gradient(90deg,transparent 0,#000 49.480%);mask-image:linear-gradient(90deg,transparent 0,#000 49.480%)"></i>
<i style="left:333.06px;width:96.16px;background:linear-gradient(#eaba31 0%,#f8ba3d 0.5%,#fec13a 1%,#feca33 2%,#fad42e 3%,#f5e427 7%,#f5e825 12%,#f5e825 20%,#f6e028 27%,#f9d82c 30%,#fcd030 33%,#fec835 35.5%,#fec13a 38%,#f8ba3d 40.5%,#eaba31 43%,#dabd28 45.5%,#c8c129 48%,#b4c533 51%,#9fc942 54%,#84cc56 57%,#68cd6b 60%,#50cc80 63%,#3bc992 66%,#31c6a0 69%,#27c2ac 72%,#1ac0b5 75%,#0abdbd 78%,#01b8ca 85%,#05b6ce 92%,#05b6ce 100%);-webkit-mask-image:linear-gradient(90deg,transparent 0,#000 49.480%);mask-image:linear-gradient(90deg,transparent 0,#000 49.480%)"></i>
<i style="left:380.64px;width:96.16px;background:linear-gradient(#fec13a 0%,#feca33 0.5%,#fad42e 1%,#f6e028 2%,#f5ec22 3%,#f7f31c 4.5%,#f9fb15 6%,#f9fb15 18%,#f6f020 24%,#f5e626 27%,#f7dc2a 30%,#fbd22f 32.5%,#fec835 35%,#fec13a 37.5%,#fabb3d 40%,#edba33 42.5%,#debd29 45%,#ccc028 47.5%,#b9c431 50%,#a3c83f 53%,#8dcb4f 56%,#71cd64 59%,#58cc79 62%,#44cb89 65%,#37c898 68%,#2ec4a5 71%,#21c1b0 74%,#12beb9 77%,#04bbc2 80%,#01b8ca 87%,#05b6ce 94%,#05b6ce 100%);-webkit-mask-image:linear-gradient(90deg,transparent 0,#000 49.480%);mask-image:linear-gradient(90deg,transparent 0,#000 49.480%)"></i>
<i style="left:428.22px;width:96.16px;background:linear-gradient(#fad42e 0%,#f6de29 0.5%,#f5e825 1%,#f6f21e 1.5%,#f9fb15 2%,#f9fb15 20%,#f6f020 26%,#f5e626 28.5%,#f7dc2a 31%,#fbd22f 33.5%,#fec835 36%,#fec13a 38.5%,#fabb3d 41%,#edba33 43.5%,#debd29 46%,#ccc028 48.5%,#b9c431 51%,#a3c83f 54%,#8dcb4f 57%,#71cd64 60%,#58cc79 63%,#44cb89 66%,#37c898 69%,#2ec4a5 72%,#21c1b0 75%,#12beb9 78%,#04bbc2 81%,#01b8ca 88%,#05b6ce 95%,#05b6ce 100%);-webkit-mask-image:linear-gradient(90deg,transparent 0,#000 49.480%);mask-image:linear-gradient(90deg,transparent 0,#000 49.480%)"></i>
<i style="left:475.80px;width:96.16px;background:linear-gradient(#f9fb15 0%,#f9fb15 18%,#f7f31c 21%,#f5ec22 24%,#f6e028 27%,#fad42e 30%,#feca33 33%,#fec13a 36%,#f8ba3d 38.5%,#eaba31 41%,#dabd28 43.5%,#c8c129 46%,#b4c533 49%,#9fc942 52%,#88cb53 55%,#71cd64 58%,#5ccc76 61%,#48cb86 64%,#33c69d 70%,#2cc4a7 73%,#21c1b0 76%,#0abdbd 82%,#01b9c6 88%,#05b6ce 95%,#05b6ce 100%);-webkit-mask-image:linear-gradient(90deg,transparent 0,#000 49.480%);mask-image:linear-gradient(90deg,transparent 0,#000 49.480%)"></i>
<i style="left:523.38px;width:96.16px;background:linear-gradient(#f9fb15 0%,#f9fb15 17%,#f7f31c 20%,#f5ec22 23%,#f6e028 26%,#fad42e 29%,#feca33 32%,#fec13a 35%,#f8ba3d 37.5%,#eaba31 40%,#dabd28 42.5%,#c8c129 45%,#b4c533 48%,#9fc942 51%,#88cb53 54%,#71cd64 57%,#5ccc76 60%,#48cb86 63%,#33c69d 69%,#2cc4a7 72%,#21c1b0 75%,#0abdbd 81%,#01b9c6 87%,#05b6ce 94%,#05b6ce 100%);-webkit-mask-image:linear-gradient(90deg,transparent 0,#000 49.480%);mask-image:linear-gradient(90deg,transparent 0,#000 49.480%)"></i>
<i style="left:570.95px;width:96.16px;background:linear-gradient(#f9fb15 0%,#f9fb15 15%,#f6f020 20%,#f5e427 23%,#f9d82c 26%,#fdce31 29%,#fec437 32%,#fcbc3d 34.5%,#f0ba36 37%,#e1bc2b 39.5%,#d0c027 42%,#c1c32d 45%,#b0c636 48%,#9ac945 51%,#84cc56 54%,#6dcd68 57%,#58cc79 60%,#48cb86 63%,#3bc992 66%,#2cc4a7 72%,#21c1b0 75%,#12beb9 78%,#01b9c6 85%,#05b6ce 92%,#0ab4d2 100%);-webkit-mask-image:linear-gradient(90deg,transparent 0,#000 49.480%);mask-image:linear-gradient(90deg,transparent 0,#000 49.480%)"></i>
<i style="left:618.53px;width:96.16px;background:linear-gradient(#f9fb15 0%,#f9fb15 12%,#f6f020 17%,#f6e028 22%,#fad62d 25%,#fdcc32 28%,#fec339 31%,#fabb3d 34%,#edba33 36.5%,#debd29 39%,#d0c027 41.5%,#c1c32d 44%,#b0c636 47%,#9fc942 50%,#88cb53 53%,#71cd64 56%,#5ccc76 59%,#48cb86 62%,#33c69d 68%,#2cc4a7 71%,#21c1b0 74%,#0abdbd 80%,#01b8ca 87%,#0ab4d2 94%,#11b1d6 100%);-webkit-mask-image:linear-gradient(90deg,transparent 0,#000 49.480%);mask-image:linear-gradient(90deg,transparent 0,#000 49.480%)"></i>
<i style="left:666.11px;width:96.16px;background:linear-gradient(#f9fb15 0%,#f9fb15 5%,#f6f020 10%,#f6e028 16%,#f9d82c 19%,#fcd030 22%,#fec835 25%,#fec13a 28%,#f8ba3d 30.5%,#eaba31 33%,#debd29 35.5%,#d0c027 38%,#c1c32d 41%,#b0c636 44%,#9ac945 47%,#84cc56 50%,#6dcd68 53%,#58cc79 56%,#48cb86 59%,#3bc992 62%,#2cc4a7 68%,#21c1b0 71%,#12beb9 74%,#01b9c6 80%,#0ab4d2 87%,#15afd9 94%,#19addc 100%);-webkit-mask-image:linear-gradient(90deg,transparent 0,#000 49.480%);mask-image:linear-gradient(90deg,transparent 0,#000 49.480%)"></i>
<i style="left:713.69px;width:96.16px;background:linear-gradient(#f5e825 0%,#f5ec22 3%,#f5e427 8%,#fad42e 14%,#fec835 20%,#fdbd3d 25%,#f2ba38 27.5%,#e4bb2c 30%,#d7be28 32.5%,#c8c129 35%,#b0c636 40%,#8dcb4f 46%,#76cc61 49%,#60cd72 52%,#50cc80 55%,#41ca8c 58%,#2fc5a2 64%,#27c2ac 67%,#1ac0b5 70%,#0abdbd 73%,#01b9c6 76%,#0ab4d2 82%,#19addc 88%,#1ea7e1 94%,#20a4e3 100%);-webkit-mask-image:linear-gradient(90deg,transparent 0,#000 49.480%);mask-image:linear-gradient(90deg,transparent 0,#000 49.480%)"></i>
<i style="left:761.27px;width:96.16px;background:linear-gradient(#fdcc32 0%,#fad42e 2%,#fad42e 6%,#fdcc32 12%,#fec437 18%,#fabb3d 23%,#edba33 25.5%,#debd29 28%,#d0c027 30.5%,#c1c32d 33%,#a8c73b 38%,#84cc56 44%,#6dcd68 47%,#58cc79 50%,#48cb86 53%,#3bc992 56%,#2cc4a7 62%,#21c1b0 65%,#12beb9 68%,#01b8ca 74%,#11b1d6 80%,#1caadf 86%,#20a4e3 92%,#249fe6 100%);-webkit-mask-image:linear-gradient(90deg,transparent 0,#000 49.480%);mask-image:linear-gradient(90deg,transparent 0,#000 49.480%)"></i>
<i style="left:808.85px;width:96.16px;background:linear-gradient(#eaba31 0%,#f8ba3d 1%,#fec13a 2%,#fec835 6%,#fec437 12%,#fabb3d 17%,#e4bb2c 22%,#d0c027 27%,#b9c431 33%,#9fc942 39%,#7acc5d 45%,#68cd6b 48%,#58cc79 51%,#48cb86 54%,#3bc992 57%,#2cc4a7 63%,#21c1b0 66%,#12beb9 69%,#01b8ca 75%,#11b1d6 80%,#1caadf 86%,#20a4e3 92%,#259ce7 100%);-webkit-mask-image:linear-gradient(90deg,transparent 0,#000 49.480%);mask-image:linear-gradient(90deg,transparent 0,#000 49.480%)"></i>
<i style="left:856.43px;width:96.16px;background:linear-gradient(#9fc942 0%,#b9c431 1%,#d0c027 2%,#debd29 5%,#debd29 10%,#d7be28 16%,#d0c027 22%,#c1c32d 28%,#b0c636 34%,#96ca48 40%,#71cd64 46%,#58cc79 52%,#48cb86 55%,#3bc992 58%,#2fc5a2 64%,#21c1b0 70%,#12beb9 73%,#04bbc2 76%,#05b6ce 82%,#15afd9 88%,#1caadf 94%,#20a4e3 100%);-webkit-mask-image:linear-gradient(90deg,transparent 0,#000 49.480%);mask-image:linear-gradient(90deg,transparent 0,#000 49.480%)"></i>
<i style="left:904.01px;width:96.16px;background:linear-gradient(#2fc5a2 0%,#3dc990 0.5%,#55cc7c 1%,#71cd64 1.5%,#91ca4c 2.75%,#b0c636 4%,#c1c32d 8%,#c1c32d 14%,#c1c32d 20%,#b9c431 27%,#a8c73b 33%,#8dcb4f 39%,#71cd64 45%,#58cc79 51%,#41ca8c 57%,#37c898 63%,#2cc4a7 70%,#1ac0b5 76%,#04bbc2 82%,#01b8ca 88%,#0ab4d2 94%,#11b1d6 100%);-webkit-mask-image:linear-gradient(90deg,transparent 0,#000 49.480%);mask-image:linear-gradient(90deg,transparent 0,#000 49.480%)"></i>
<i style="left:951.59px;width:96.16px;background:linear-gradient(#15afd9 0%,#04b6cd 0.67%,#08bcbf 1.33%,#21c1b0 2%,#31c6a0 3%,#3fca8e 4%,#58cc79 5%,#71cd64 7%,#8dcb4f 9%,#9fc942 14%,#a8c73b 20%,#9fc942 27%,#8dcb4f 33%,#7acc5d 39%,#68cd6b 45%,#50cc80 52%,#41ca8c 58%,#37c898 64%,#31c6a0 70%,#27c2ac 76%,#12beb9 82%,#04bbc2 88%,#01b8ca 94%,#0ab4d2 100%);-webkit-mask-image:linear-gradient(90deg,transparent 0,#000 49.480%);mask-image:linear-gradient(90deg,transparent 0,#000 49.480%)"></i>
<i style="left:999.17px;width:47.58px;background:linear-gradient(#259ce7 0%,#21a3e3 1%,#1caadf 2%,#13b0d7 3%,#05b6ce 4%,#06bcc0 5%,#1fc0b2 6%,#2fc5a2 7%,#3eca8f 8.5%,#58cc79 10%,#68cd6b 12%,#7acc5d 14%,#84cc56 20%,#7acc5d 27%,#71cd64 33%,#60cd72 40%,#50cc80 47%,#41ca8c 54%,#39c895 60%,#33c69d 67%,#2cc4a7 74%,#1ac0b5 80%,#0abdbd 86%,#01b9c6 92%,#05b6ce 100%);-webkit-mask-image:linear-gradient(90deg,transparent 0,#000 100.000%);mask-image:linear-gradient(90deg,transparent 0,#000 100.000%)"></i>
</div>
<div class="cb" style="left:2396.30px;top:721.70px;width:28.30px;height:194.00px;background:linear-gradient(#f9fb15 0.0%,#f6ef20 3.1%,#f5e327 6.2%,#f9d62d 9.4%,#feca33 12.5%,#febe3c 15.6%,#f1ba37 18.8%,#debc2a 21.9%,#c8c129 25.0%,#afc637 28.1%,#94ca4a 31.2%,#77cc60 34.4%,#5ccc76 37.5%,#44ca8a 40.6%,#34c79c 43.8%,#28c2ab 46.9%,#12beb9 50.0%,#01b9c6 53.1%,#0cb3d3 56.2%,#1aacdd 59.4%,#21a3e3 62.5%,#269ae9 65.6%,#2c90f0 68.8%,#2e85f8 71.9%,#347afd 75.0%,#3f6efe 78.1%,#4562fc 81.2%,#4757f7 84.4%,#484cef 87.5%,#4741e5 90.6%,#4536d5 93.8%,#422ebf 96.9%,#3e26a8 100.0%)"></div>
<div class="p" style="left:89.00px;top:953.20px;width:1046.75px;height:193.90px">
<i style="left:0;width:96.16px;background:linear-gradient(#f6e028 0%,#f7dc2a 3%,#fad42e 6%,#fec835 9%,#fdbd3d 12%,#eaba31 15%,#debd29 16.5%,#d0c027 18%,#c1c32d 19.5%,#b0c636 21%,#96ca48 22.5%,#7acc5d 24%,#62cd70 25%,#4dcc82 26%,#3bc992 27%,#2cc4a7 28.5%,#12beb9 30%,#02bac4 31.5%,#05b6ce 33%,#11b1d6 35%,#19addc 37%,#22a1e4 43%,#2895ec 50%,#2c8ff1 54%,#2d88f6 58%,#347afd 66%,#3b72ff 70.5%,#416bfe 75%,#4367fd 85%,#416bfe 100%)"></i>
<i style="left:0.00px;width:191.32px;background:linear-gradient(#f5e825 0%,#f5e825 3%,#f7dc2a 6%,#fad42e 7.5%,#fdcc32 9%,#fec13a 12%,#f0ba36 15%,#e4bb2c 16.5%,#d7be28 18%,#c8c129 19.5%,#b9c431 21%,#a3c83f 22.5%,#8dcb4f 24%,#71cd64 25.5%,#58cc79 27%,#3eca8f 28.5%,#2fc5a2 30%,#21c1b0 31.5%,#0abdbd 33%,#05b6ce 36%,#15afd9 40%,#20a4e3 46%,#249de7 49.5%,#2895ec 53%,#2d8df2 56.5%,#2e85f8 60%,#327cfc 64%,#3b72ff 68%,#416bfe 76%,#4367fd 88%,#416bfe 100%);-webkit-mask-image:linear-gradient(90deg,transparent 0,#000 49.739%);mask-image:linear-gradient(90deg,transparent 0,#000 49.739%)"></i>
<i style="left:95.16px;width:191.32px;background:linear-gradient(#f9fb15 0%,#f9fb15 4%,#f5ee21 5.5%,#f6e028 7%,#fad62d 8.5%,#fdcc32 10%,#fec437 11.5%,#fdbd3d 13%,#f2ba38 14.5%,#e4bb2c 16%,#d3bf27 17.5%,#c1c32d 19%,#acc738 20.5%,#96ca48 22%,#7acc5d 23.5%,#60cd72 25%,#48cb86 26.5%,#37c898 28%,#2cc4a7 29.5%,#1ac0b5 31%,#0abdbd 32.5%,#01b9c6 34%,#0ab4d2 37%,#1caadf 42%,#21a3e3 45%,#259ce7 48%,#2994ed 51%,#2d8cf3 54%,#3080fb 57%,#3b72ff 60%,#3876fe 66%,#347afd 75%,#347afd 88%,#3876fe 100%);-webkit-mask-image:linear-gradient(90deg,transparent 0,#000 49.739%);mask-image:linear-gradient(90deg,transparent 0,#000 49.739%)"></i>
<i style="left:190.32px;width:191.32px;background:linear-gradient(#f9fb15 0%,#f9fb15 5%,#f5ee21 6.5%,#f6e028 8%,#fad42e 9.5%,#fec835 11%,#febf3b 12.5%,#f5ba3a 14%,#e4bb2c 15.5%,#d0c027 17%,#b9c431 18.5%,#9fc942 20%,#84cc56 21.5%,#68cd6b 23%,#4ccb83 24.5%,#37c898 26%,#2cc4a7 27.5%,#1ac0b5 29%,#07bcc0 30.5%,#01b8ca 32%,#11b1d6 35%,#1ea7e1 40%,#23a0e5 43%,#2699ea 46%,#2b91ef 49.5%,#2d88f6 53%,#2e85f8 60%,#2d88f6 70%,#2e85f8 82%,#2f81fa 100%);-webkit-mask-image:linear-gradient(90deg,transparent 0,#000 49.739%);mask-image:linear-gradient(90deg,transparent 0,#000 49.739%)"></i>
<i style="left:285.48px;width:191.32px;background:linear-gradient(#f9fb15 0%,#f9fb15 5%,#f5ee21 6.5%,#f6e028 8%,#fbd22f 9.5%,#fec437 11%,#f5ba3a 12.5%,#debd29 14%,#cbc129 15%,#b6c532 16%,#9fc942 17%,#7acc5d 18.5%,#58cc79 20%,#41ca8c 21%,#33c69d 22%,#27c2ac 23%,#0ebdbb 24.5%,#01b8ca 26%,#0ab4d2 27.5%,#15afd9 29%,#20a4e3 33%,#269ae8 35.5%,#2c8ff1 38%,#2e85f8 41%,#347afd 44%,#2e85f8 50%,#2c8ff1 58%,#2a92ee 68%,#2d8cf3 80%,#2e85f8 90%,#2f81fa 100%);-webkit-mask-image:linear-gradient(90deg,transparent 0,#000 49.739%);mask-image:linear-gradient(90deg,transparent 0,#000 49.739%)"></i>
<i style="left:380.64px;width:191.32px;background:linear-gradient(#f9fb15 0%,#f9fb15 5%,#f5ee21 6.5%,#f6e028 8%,#fbd22f 9.5%,#fec437 11%,#f5ba3a 12%,#debd29 13%,#c6c22a 13.67%,#abc739 14.33%,#8dcb4f 15%,#6ecd67 15.67%,#52cc7e 16.33%,#3bc992 17%,#2fc5a2 17.67%,#21c1b0 18.33%,#0abdbd 19%,#01b8c8 20%,#0ab4d2 21%,#1caadf 24%,#21a3e3 26%,#259ce7 28%,#2994ed 30.5%,#2d8cf3 33%,#2e85f8 40%,#2d88f6 50%,#2c8ff1 60%,#2c8ff1 70%,#2d88f6 80%,#2e85f8 90%,#2f81fa 100%);-webkit-mask-image:linear-gradient(90deg,transparent 0,#000 49.739%);mask-image:linear-gradient(90deg,transparent 0,#000 49.739%)"></i>
<i style="left:475.80px;width:191.32px;background:linear-gradient(#f5e825 0%,#f5e825 2%,#f6de29 3.5%,#fad42e 5%,#fdcc32 6.5%,#fec437 8%,#fabb3d 9.5%,#eaba31 11%,#d4be28 12%,#bbc42f 13%,#9fc942 14%,#81cc59 15%,#62cd70 16%,#48cb86 17%,#35c79a 18%,#29c3aa 19%,#12beb9 20%,#01b9c6 21.5%,#0ab4d2 23%,#17aeda 25%,#1ea7e1 27%,#249de7 29.5%,#2a92ee 32%,#2e85f8 38%,#317efb 46%,#317efb 55%,#2f81fa 65%,#2f81fa 75%,#2f81fa 85%,#2f81fa 100%);-webkit-mask-image:linear-gradient(90deg,transparent 0,#000 49.739%);mask-image:linear-gradient(90deg,transparent 0,#000 49.739%)"></i>
<i style="left:570.95px;width:191.32px;background:linear-gradient(#eaba31 0%,#fabb3d 0.75%,#fec437 1.5%,#fec437 4%,#fdbd3d 7%,#f2ba38 8.5%,#e4bb2c 10%,#ccc028 11.5%,#b0c636 13%,#91ca4c 14.5%,#71cd64 16%,#5acc77 17%,#46cb88 18%,#37c898 19%,#29c3a9 20.5%,#12beb9 22%,#02bac4 23.5%,#05b6ce 25%,#13b0d7 27%,#1caadf 29%,#22a1e4 31.5%,#2699ea 34%,#2c8ff1 37%,#2e85f8 40%,#327cfc 44%,#3b72ff 48%,#4367fd 58%,#416bfe 68%,#4367fd 80%,#4563fd 90%,#4563fd 100%);-webkit-mask-image:linear-gradient(90deg,transparent 0,#000 49.739%);mask-image:linear-gradient(90deg,transparent 0,#000 49.739%)"></i>
<i style="left:666.11px;width:191.32px;background:linear-gradient(#15afd9 0%,#07b5cf 0.33%,#02bac4 0.67%,#12beb9 1%,#2bc3a8 1.5%,#39c895 2%,#52cc7e 2.5%,#71cd64 3%,#88cb53 4%,#9fc942 5%,#9fc942 8%,#84cc56 12%,#71cd64 14%,#60cd72 16%,#4ccb83 18%,#3bc992 20%,#2fc5a2 22%,#21c1b0 24%,#0abdbd 26%,#01b8ca 28%,#0ab4d2 30%,#15afd9 32%,#20a4e3 37%,#259ce7 43%,#2895ec 50%,#2c8ff1 54%,#2d88f6 58%,#3080fb 62%,#3876fe 66%,#416bfe 75%,#4563fd 85%,#465ffb 100%);-webkit-mask-image:linear-gradient(90deg,transparent 0,#000 49.739%);mask-image:linear-gradient(90deg,transparent 0,#000 49.739%)"></i>
<i style="left:761.27px;width:191.32px;background:linear-gradient(#eaba31 0%,#f5ba3a 1%,#fabb3d 4%,#e4bb2c 7%,#ccc028 8.5%,#b0c636 10%,#91ca4c 11.5%,#71cd64 13%,#54cc7d 14.5%,#3bc992 16%,#2cc4a7 17.5%,#12beb9 19%,#02bac4 20.5%,#05b6ce 22%,#11b1d6 24%,#19addc 26%,#20a4e3 32%,#22a1e4 40%,#22a1e4 48%,#249fe6 55%,#2a92ee 62%,#2d8af4 66%,#2f81fa 70%,#347afd 74%,#3b72ff 78%,#416bfe 88%,#3f6eff 100%);-webkit-mask-image:linear-gradient(90deg,transparent 0,#000 49.739%);mask-image:linear-gradient(90deg,transparent 0,#000 49.739%)"></i>
<i style="left:856.43px;width:191.32px;background:linear-gradient(#f6f020 0%,#f6f020 4%,#f5e227 5.5%,#fad42e 7%,#fec835 8.5%,#fdbd3d 10%,#eaba31 11.5%,#d0c027 13%,#b0c636 14%,#8dcb4f 15%,#74cc62 15.67%,#5dcc75 16.33%,#48cb86 17%,#33c69d 18%,#21c1b0 19%,#0abdbd 20%,#01b8ca 21%,#0ab4d2 22.5%,#15afd9 24%,#20a4e3 28%,#259ce7 34%,#259ce7 42%,#249fe6 50%,#2699ea 58%,#2b91ef 62%,#2d88f6 66%,#347afd 74%,#3b72ff 82%,#3b72ff 90%,#3876fe 100%);-webkit-mask-image:linear-gradient(90deg,transparent 0,#000 49.739%);mask-image:linear-gradient(90deg,transparent 0,#000 49.739%)"></i>
<i style="left:951.59px;width:95.16px;background:linear-gradient(#f9fb15 0%,#f9fb15 7%,#f5ee21 8.5%,#f6e028 10%,#fad42e 11%,#fec835 12%,#fcbc3d 13%,#eaba31 14%,#d4bf28 14.67%,#bbc42f 15.33%,#9fc942 16%,#80cc59 16.67%,#63cd70 17.33%,#48cb86 18%,#35c79a 18.67%,#29c3aa 19.33%,#12beb9 20%,#02bac4 21%,#05b6ce 22%,#11b1d6 23.5%,#19addc 25%,#1fa6e2 27.5%,#249fe6 30%,#2797eb 33%,#2c8ff1 36%,#2f81fa 44%,#2e85f8 52%,#2e85f8 60%,#317efb 70%,#347afd 80%,#347afd 90%,#347afd 100%);-webkit-mask-image:linear-gradient(90deg,transparent 0,#000 100.000%);mask-image:linear-gradient(90deg,transparent 0,#000 100.000%)"></i>
</div>
<div class="cb" style="left:1149.40px;top:952.90px;width:28.50px;height:194.00px;background:linear-gradient(#f9fb15 0.0%,#f6ef20 3.1%,#f5e327 6.2%,#f9d62d 9.4%,#feca33 12.5%,#febe3c 15.6%,#f1ba37 18.8%,#debc2a 21.9%,#c8c129 25.0%,#afc637 28.1%,#94ca4a 31.2%,#77cc60 34.4%,#5ccc76 37.5%,#44ca8a 40.6%,#34c79c 43.8%,#28c2ab 46.9%,#12beb9 50.0%,#01b9c6 53.1%,#0cb3d3 56.2%,#1aacdd 59.4%,#21a3e3 62.5%,#269ae9 65.6%,#2c90f0 68.8%,#2e85f8 71.9%,#347afd 75.0%,#3f6efe 78.1%,#4562fc 81.2%,#4757f7 84.4%,#484cef 87.5%,#4741e5 90.6%,#4536d5 93.8%,#422ebf 96.9%,#3e26a8 100.0%)"></div>
<div class="p" style="left:1336.25px;top:953.20px;width:1046.75px;height:193.90px">
<i style="left:0;width:48.58px;background:linear-gradient(#48cb86 0%,#63cd70 0.67%,#80cc59 1.33%,#9fc942 2%,#b6c532 3%,#cbc129 4%,#debd29 5%,#edba33 7%,#fabb3d 9%,#fec339 13%,#fec13a 17%,#f5ba3a 21%,#e4bb2c 25%,#d0c027 30%,#c1c32d 33%,#b0c636 36%,#9ac945 39%,#84cc56 42%,#68cd6b 45%,#50cc80 48%,#3bc992 51%,#2fc5a2 54%,#21c1b0 56.5%,#0abdbd 59%,#05b6ce 63%,#15afd9 67%,#1ea7e1 72%,#23a0e5 75%,#2699ea 78%,#2d8df2 81%,#2f81fa 84%,#3974fe 86.5%,#4367fd 89%,#465dfa 90.33%,#4854f5 91.67%,#484aee 93%,#473fe3 95%,#4536d3 97%,#422ebe 100%)"></i>
<i style="left:0.00px;width:96.16px;background:linear-gradient(#48cb86 0%,#63cd70 0.67%,#80cc59 1.33%,#9fc942 2%,#bdc42f 3.5%,#d7be28 5%,#e4bb2c 7%,#f0ba36 9%,#fabb3d 14%,#f5ba3a 19%,#e4bb2c 24%,#d0c027 30%,#c1c32d 33%,#b0c636 36%,#9ac945 39%,#84cc56 42%,#68cd6b 45%,#50cc80 48%,#3bc992 51%,#2fc5a2 54%,#24c2ae 56.5%,#12beb9 59%,#01b8ca 63%,#0ab4d2 65%,#15afd9 67%,#1ea7e1 72%,#23a0e5 75%,#2699ea 78%,#2c8ff1 81%,#2e85f8 84%,#347afd 86.5%,#3f6eff 89%,#4465fd 91%,#475cfa 93%,#4853f5 95%,#484aee 97%,#4743e7 100%);-webkit-mask-image:linear-gradient(90deg,transparent 0,#000 49.480%);mask-image:linear-gradient(90deg,transparent 0,#000 49.480%)"></i>
<i style="left:47.58px;width:96.16px;background:linear-gradient(#3bc992 0%,#54cc7d 1%,#71cd64 2%,#8dcb4f 3%,#a8c73b 4%,#c1c32d 5%,#d0c027 7%,#debd29 9%,#eaba31 14%,#e4bb2c 19%,#d7be28 24%,#c1c32d 30%,#a8c73b 36%,#84cc56 42%,#6dcd68 45%,#58cc79 48%,#41ca8c 51%,#33c69d 54%,#27c2ac 56.5%,#12beb9 59%,#01b8ca 63%,#11b1d6 67%,#1ea7e1 72%,#22a1e4 75%,#259ce7 78%,#2994ed 81%,#2d8cf3 84%,#2e83f9 86.5%,#347afd 89%,#3d70ff 91%,#4367fd 93%,#465ffb 95%,#4758f8 97%,#484ef1 100%);-webkit-mask-image:linear-gradient(90deg,transparent 0,#000 49.480%);mask-image:linear-gradient(90deg,transparent 0,#000 49.480%)"></i>
<i style="left:95.16px;width:96.16px;background:linear-gradient(#2fc5a2 0%,#39c895 1%,#48cb86 2%,#62cd70 3%,#81cc59 4%,#9fc942 5%,#b4c533 7%,#c8c129 9%,#debd29 14%,#d7be28 19%,#c8c129 24%,#b9c431 30%,#9fc942 36%,#7acc5d 42%,#68cd6b 45%,#58cc79 48%,#41ca8c 51%,#33c69d 54%,#29c3a9 56.5%,#1ac0b5 59%,#0abdbd 61%,#01b9c6 63%,#0ab4d2 67%,#1caadf 72%,#20a4e3 75%,#249fe6 78%,#2797eb 81%,#2c8ff1 84%,#2e87f7 86.5%,#317efb 89%,#3974fe 91%,#416bfe 93%,#475cfa 97%,#4851f4 100%);-webkit-mask-image:linear-gradient(90deg,transparent 0,#000 49.480%);mask-image:linear-gradient(90deg,transparent 0,#000 49.480%)"></i>
<i style="left:142.74px;width:96.16px;background:linear-gradient(#12beb9 0%,#27c2ac 2%,#33c69d 3%,#41ca8c 4%,#58cc79 5%,#7acc5d 6.5%,#9fc942 8%,#b0c636 10%,#c1c32d 12%,#c4c22a 17%,#b9c431 22%,#a8c73b 28%,#96ca48 34%,#7acc5d 40%,#68cd6b 43%,#58cc79 46%,#44cb89 49%,#37c898 52%,#2ec4a5 54.5%,#21c1b0 57%,#12beb9 59%,#04bbc2 61%,#05b6ce 65%,#11b1d6 67.5%,#19addc 70%,#22a1e4 76%,#269ae8 79%,#2a92ee 82%,#2d88f6 85%,#317efb 88%,#3b72ff 90.5%,#4367fd 93%,#475cfa 97%,#4755f6 100%);-webkit-mask-image:linear-gradient(90deg,transparent 0,#000 49.480%);mask-image:linear-gradient(90deg,transparent 0,#000 49.480%)"></i>
<i style="left:190.32px;width:96.16px;background:linear-gradient(#04bbc2 0%,#12beb9 2%,#29c3a9 3.5%,#37c898 5%,#46cb88 6%,#5acc77 7%,#71cd64 8%,#88cb53 10%,#9fc942 12%,#a8c73b 17%,#9fc942 22%,#96ca48 28%,#84cc56 34%,#68cd6b 40%,#54cc7d 43%,#41ca8c 46%,#35c79a 48.5%,#2cc4a7 51%,#1ec0b2 53.5%,#0abdbd 56%,#01b8ca 60%,#11b1d6 64%,#1caadf 69%,#20a4e3 72%,#249fe6 75%,#2797eb 78%,#2c8ff1 81%,#2e85f8 84%,#347afd 87%,#3f6eff 89.5%,#4563fd 92%,#4758f8 96%,#4851f4 100%);-webkit-mask-image:linear-gradient(90deg,transparent 0,#000 49.480%);mask-image:linear-gradient(90deg,transparent 0,#000 49.480%)"></i>
<i style="left:237.90px;width:96.16px;background:linear-gradient(#05b6ce 0%,#01b9c6 2%,#12beb9 3.5%,#27c2ac 5%,#35c79a 6.5%,#48cb86 8%,#60cd72 10%,#7acc5d 12%,#84cc56 17%,#84cc56 22%,#7acc5d 28%,#68cd6b 34%,#58cc79 37%,#48cb86 40%,#39c895 42.5%,#2fc5a2 45%,#24c2ae 47.5%,#12beb9 50%,#01b9c6 54%,#0ab4d2 58%,#19addc 63%,#20a4e3 69%,#2699ea 75%,#2b91ef 78%,#2d88f6 81%,#317efb 84%,#3b72ff 87%,#4369fe 89.5%,#465ffb 92%,#4758f8 96%,#4851f4 100%);-webkit-mask-image:linear-gradient(90deg,transparent 0,#000 49.480%);mask-image:linear-gradient(90deg,transparent 0,#000 49.480%)"></i>
<i style="left:285.48px;width:96.16px;background:linear-gradient(#11b1d6 0%,#0ab4d2 2%,#04bbc2 5%,#1ec0b2 6.5%,#2fc5a2 8%,#3bc992 10%,#50cc80 12%,#60cd72 17%,#58cc79 22%,#48cb86 28%,#37c898 33%,#27c2ac 38%,#1ac0b5 40.5%,#0abdbd 43%,#01b8ca 48%,#11b1d6 53%,#19addc 58%,#20a4e3 64%,#259ce7 70%,#2c8ff1 76%,#2e87f7 79%,#317efb 82%,#3b72ff 85%,#4367fd 88%,#475cfa 93%,#4755f6 100%);-webkit-mask-image:linear-gradient(90deg,transparent 0,#000 49.480%);mask-image:linear-gradient(90deg,transparent 0,#000 49.480%)"></i>
<i style="left:333.06px;width:96.16px;background:linear-gradient(#05b6ce 0%,#05b6ce 2%,#01b9c6 5%,#0abdbd 6.5%,#1ac0b5 8%,#29c3a9 10%,#33c69d 12%,#3bc992 17%,#37c898 22%,#2fc5a2 28%,#21c1b0 33%,#0abdbd 38%,#01b8ca 43%,#0ab4d2 48%,#15afd9 53%,#1caadf 58%,#22a1e4 64%,#2895ec 70%,#2d8df2 73%,#2e85f8 76%,#327cfc 79%,#3b72ff 82%,#4369fe 85%,#465ffb 88%,#4758f8 93%,#4758f8 100%);-webkit-mask-image:linear-gradient(90deg,transparent 0,#000 49.480%);mask-image:linear-gradient(90deg,transparent 0,#000 49.480%)"></i>
<i style="left:380.64px;width:96.16px;background:linear-gradient(#05b6ce 0%,#0ab4d2 3%,#01b8ca 6%,#12beb9 10%,#27c2ac 14%,#2cc4a7 19%,#21c1b0 24%,#0abdbd 30%,#01b8ca 36%,#0ab4d2 42%,#15afd9 48%,#1ea7e1 54%,#249fe6 60%,#2a92ee 66%,#2d8af4 69%,#2f81fa 72%,#3678fd 75%,#3f6eff 78%,#4465fd 81%,#475cfa 84%,#4755f6 87%,#484ef1 90%,#484aee 95%,#484aee 100%);-webkit-mask-image:linear-gradient(90deg,transparent 0,#000 49.480%);mask-image:linear-gradient(90deg,transparent 0,#000 49.480%)"></i>
<i style="left:428.22px;width:72.37px;background:linear-gradient(#05b6ce 0%,#05b6ce 5%,#04bbc2 10%,#12beb9 15%,#0abdbd 20%,#01b9c6 26%,#11b1d6 36%,#1caadf 46%,#21a3e3 51%,#259ce7 56%,#2b91ef 61.5%,#2e85f8 67%,#327bfc 70.33%,#3d71ff 73.67%,#4367fd 77%,#465dfa 80.33%,#4854f5 83.67%,#484aee 87%,#473fe3 90.33%,#4536d3 93.67%,#422ebe 97%,#3f29b0 100%);-webkit-mask-image:linear-gradient(90deg,transparent 0,#000 65.745%);mask-image:linear-gradient(90deg,transparent 0,#000 65.745%)"></i>
<i style="left:475.80px;width:48.58px;background:linear-gradient(#05b6ce 0%,#05b6ce 5%,#04bbc2 15%,#01b9c6 20%,#0ab4d2 26%,#19addc 31%,#20a4e3 36%,#259ce7 41%,#2a92ee 46%,#2d88f6 51%,#2f81fa 56%,#3678fd 61.5%,#3f6eff 67%,#4561fc 72%,#4755f6 77%,#4747eb 82%,#4539d9 87%,#4330c5 92%,#3f29b0 97%,#3e26a8 100%);-webkit-mask-image:linear-gradient(90deg,transparent 0,#000 48.971%);mask-image:linear-gradient(90deg,transparent 0,#000 48.971%)"></i>
<i style="left:499.59px;width:48.58px;background:linear-gradient(#05b6ce 0%,#05b6ce 5%,#01b8ca 10%,#01b9c6 15%,#05b6ce 20%,#11b1d6 23%,#19addc 26%,#20a4e3 31%,#259ce7 36%,#2a92ee 41%,#2d88f6 46%,#3080fb 51%,#3876fe 56%,#4369fe 61.5%,#475cfa 67%,#4850f2 72%,#4743e7 77%,#463adb 80.33%,#4332ca 83.67%,#402bb7 87%,#3e26a8 92%,#3e26a8 100%);-webkit-mask-image:linear-gradient(90deg,transparent 0,#000 48.971%);mask-image:linear-gradient(90deg,transparent 0,#000 48.971%)"></i>
<i style="left:523.38px;width:48.58px;background:linear-gradient(#05b6ce 0%,#05b6ce 5%,#01b8ca 15%,#0ab4d2 20%,#1caadf 26%,#20a4e3 28.5%,#249fe6 31%,#2797eb 33.5%,#2c8ff1 36%,#2f81fa 41%,#3876fe 46%,#416bfe 51%,#465ffb 56%,#4851f4 62%,#484aee 64.5%,#4743e7 67%,#463cde 69.5%,#4536d3 72%,#422ebe 77%,#3e26a8 82%,#3e26a8 100%);-webkit-mask-image:linear-gradient(90deg,transparent 0,#000 48.971%);mask-image:linear-gradient(90deg,transparent 0,#000 48.971%)"></i>
<i style="left:547.16px;width:48.58px;background:linear-gradient(#05b6ce 0%,#05b6ce 5%,#01b8ca 10%,#01b8ca 15%,#0ab4d2 20%,#1caadf 25%,#22a1e4 27.5%,#2699ea 30%,#2b91ef 32.5%,#2d88f6 35%,#3080fb 38%,#3876fe 41%,#4367fd 47%,#465ffb 50%,#4758f8 53%,#4850f2 56.5%,#4747eb 60%,#463ee1 63.5%,#4536d3 67%,#402bb7 73%,#3e26a8 78%,#3e26a8 100%);-webkit-mask-image:linear-gradient(90deg,transparent 0,#000 48.971%);mask-image:linear-gradient(90deg,transparent 0,#000 48.971%)"></i>
<i style="left:570.95px;width:48.58px;background:linear-gradient(#01b8ca 0%,#01b9c6 5%,#0abdbd 10%,#12beb9 15%,#01b9c6 20%,#07b5d0 23%,#15afd9 26%,#20a4e3 31%,#2699ea 36%,#2d8df2 41%,#2f81fa 46%,#3974fe 51%,#4367fd 56%,#475cfa 61.5%,#4851f4 67%,#4747eb 72%,#463cde 77%,#4434d0 79.5%,#422ebe 82%,#3e26a8 87%,#3e26a8 100%);-webkit-mask-image:linear-gradient(90deg,transparent 0,#000 48.971%);mask-image:linear-gradient(90deg,transparent 0,#000 48.971%)"></i>
<i style="left:594.74px;width:48.58px;background:linear-gradient(#01b9c6 0%,#04bbc2 5%,#12beb9 7.5%,#21c1b0 10%,#27c2ac 15%,#12beb9 20%,#02bac4 23%,#05b6ce 26%,#17aeda 31%,#20a4e3 36%,#269ae8 41%,#2c8ff1 46%,#2e85f8 51%,#347afd 56%,#3f6eff 61.5%,#4563fd 67%,#4758f8 72%,#484ef1 77%,#4745e9 79.5%,#463cde 82%,#4433cc 84.5%,#402bb7 87%,#3e26a8 92%,#3e26a8 100%);-webkit-mask-image:linear-gradient(90deg,transparent 0,#000 48.971%);mask-image:linear-gradient(90deg,transparent 0,#000 48.971%)"></i>
<i style="left:618.53px;width:48.58px;background:linear-gradient(#02bac4 0%,#0abdbd 5%,#1ec0b2 7.5%,#2cc4a7 10%,#2cc4a7 15%,#1ac0b5 20%,#07bcc0 23%,#01b8ca 26%,#11b1d6 31%,#1caadf 36%,#22a1e4 41%,#2699ea 46%,#2c8ff1 51%,#2e85f8 56%,#327cfc 61.5%,#3b72ff 67%,#4367fd 72%,#475cfa 77%,#4851f4 80.33%,#4747eb 83.67%,#463cde 87%,#4434d0 89.5%,#422ebe 92%,#3f29b0 97%,#3e26a8 100%);-webkit-mask-image:linear-gradient(90deg,transparent 0,#000 48.971%);mask-image:linear-gradient(90deg,transparent 0,#000 48.971%)"></i>
<i style="left:642.32px;width:72.37px;background:linear-gradient(#04bbc2 0%,#12beb9 5%,#27c2ac 7.5%,#33c69d 10%,#2fc5a2 15%,#21c1b0 20%,#12beb9 23%,#04bbc2 26%,#03b7cc 31%,#11b1d6 36%,#1aabdd 41%,#20a4e3 46%,#259ce7 51%,#2a92ee 56%,#2d88f6 61.5%,#317efb 67%,#3b72ff 72%,#4367fd 77%,#475bf9 80.33%,#484ff2 83.67%,#4743e7 87%,#4539d9 90.5%,#4330c5 94%,#402bb7 100%);-webkit-mask-image:linear-gradient(90deg,transparent 0,#000 32.873%);mask-image:linear-gradient(90deg,transparent 0,#000 32.873%)"></i>
<i style="left:666.11px;width:96.16px;background:linear-gradient(#12beb9 0%,#21c1b0 3%,#2cc4a7 5%,#33c69d 7%,#3bc992 11%,#37c898 16%,#2cc4a7 21%,#21c1b0 23.5%,#12beb9 26%,#01b9c6 31%,#05b6ce 37%,#11b1d6 43%,#1caadf 49%,#22a1e4 55%,#2895ec 61%,#2d8cf3 67%,#2e83f9 70%,#347afd 73%,#3b72ff 75.5%,#416bfe 78%,#4561fc 80.5%,#4758f8 83%,#4851f4 85.5%,#484aee 88%,#463cde 93%,#4536d3 96.5%,#4330c5 100%);-webkit-mask-image:linear-gradient(90deg,transparent 0,#000 49.480%);mask-image:linear-gradient(90deg,transparent 0,#000 49.480%)"></i>
<i style="left:713.69px;width:96.16px;background:linear-gradient(#12beb9 0%,#27c2ac 3%,#31c6a0 5%,#3bc992 7%,#48cb86 11%,#41ca8c 16%,#33c69d 21%,#27c2ac 26%,#12beb9 31%,#01b9c6 37%,#05b6ce 43%,#15afd9 49%,#1caadf 55%,#20a4e3 58%,#249fe6 61%,#2a92ee 67%,#2d8af4 70%,#2f81fa 73%,#347afd 75.5%,#3b72ff 78%,#4369fe 80.5%,#465ffb 83%,#4851f4 88%,#484aee 90.5%,#4743e7 93%,#463cde 96.5%,#4536d3 100%);-webkit-mask-image:linear-gradient(90deg,transparent 0,#000 49.480%);mask-image:linear-gradient(90deg,transparent 0,#000 49.480%)"></i>
<i style="left:761.27px;width:96.16px;background:linear-gradient(#12beb9 0%,#24c2ae 1%,#2fc5a2 2%,#3eca8f 3.5%,#58cc79 5%,#68cd6b 7%,#7acc5d 9%,#84cc56 14%,#7acc5d 20%,#60cd72 26%,#50cc80 29%,#41ca8c 32%,#35c79a 35%,#2cc4a7 38%,#1ec0b2 41%,#0abdbd 44%,#05b6ce 50%,#15afd9 56%,#20a4e3 62%,#2699ea 68%,#2b91ef 71%,#2d88f6 74%,#3080fb 76.5%,#3876fe 79%,#416bfe 81.5%,#465ffb 84%,#4757f7 86.5%,#484ef1 89%,#4747eb 91.5%,#473fe3 94%,#4536d3 100%);-webkit-mask-image:linear-gradient(90deg,transparent 0,#000 49.480%);mask-image:linear-gradient(90deg,transparent 0,#000 49.480%)"></i>
<i style="left:808.85px;width:96.16px;background:linear-gradient(#21c1b0 0%,#2fc5a2 1%,#3bc992 2%,#4dcc82 3%,#62cd70 4%,#7acc5d 5%,#91ca4c 7%,#a8c73b 9%,#b9c431 14%,#b0c636 20%,#96ca48 26%,#71cd64 32%,#5ccc76 35%,#48cb86 38%,#39c895 41%,#2fc5a2 44%,#24c2ae 47%,#12beb9 50%,#01b8ca 56%,#0ab4d2 59%,#15afd9 62%,#1da9e0 65%,#22a1e4 68%,#269ae8 71%,#2a92ee 74%,#2d88f6 76.5%,#317efb 79%,#3b72ff 81.5%,#4367fd 84%,#465efb 86.5%,#4755f6 89%,#4747eb 94%,#4539d9 100%);-webkit-mask-image:linear-gradient(90deg,transparent 0,#000 49.480%);mask-image:linear-gradient(90deg,transparent 0,#000 49.480%)"></i>
<i style="left:856.43px;width:96.16px;background:linear-gradient(#27c2ac 0%,#35c79a 1%,#48cb86 2%,#60cd72 3%,#7acc5d 4%,#96ca48 5%,#b0c636 7%,#c8c129 9%,#d3bf27 14%,#d0c027 20%,#b9c431 26%,#a8c73b 29%,#96ca48 32%,#71cd64 38%,#5ccc76 41%,#48cb86 44%,#39c895 47%,#2fc5a2 50%,#24c2ae 53%,#12beb9 56%,#02bac4 59%,#05b6ce 62%,#13b0d7 65%,#1caadf 68%,#21a3e3 71%,#259ce7 74%,#2a92ee 76.5%,#2d88f6 79%,#327cfc 81.5%,#3f6eff 84%,#4563fd 86.5%,#4758f8 89%,#4850f2 91.5%,#4747eb 94%,#4539d9 100%);-webkit-mask-image:linear-gradient(90deg,transparent 0,#000 49.480%);mask-image:linear-gradient(90deg,transparent 0,#000 49.480%)"></i>
<i style="left:904.01px;width:96.16px;background:linear-gradient(#2fc5a2 0%,#3eca8f 1%,#58cc79 2%,#71cd64 3%,#8dcb4f 4%,#a8c73b 5%,#c1c32d 7%,#d7be28 9%,#e4bb2c 14%,#debd29 20%,#c8c129 26%,#b9c431 29%,#a8c73b 32%,#84cc56 38%,#6dcd68 41%,#58cc79 44%,#44cb89 47%,#37c898 50%,#2ec4a5 53%,#21c1b0 56%,#0abdbd 59%,#01b8ca 62%,#0eb3d4 65%,#19addc 68%,#1fa6e2 71%,#249fe6 74%,#2895ec 76.5%,#2d8cf3 79%,#3080fb 81.5%,#3b72ff 84%,#4367fd 86.5%,#475cfa 89%,#4853f5 91.5%,#484aee 94%,#4741e5 97%,#4539d9 100%);-webkit-mask-image:linear-gradient(90deg,transparent 0,#000 49.480%);mask-image:linear-gradient(90deg,transparent 0,#000 49.480%)"></i>
<i style="left:951.59px;width:96.16px;background:linear-gradient(#3bc992 0%,#54cc7d 1%,#71cd64 2%,#96ca48 3.5%,#b9c431 5%,#ccc028 7%,#debd29 9%,#eaba31 14%,#e4bb2c 20%,#d0c027 26%,#c1c32d 29%,#b0c636 32%,#8dcb4f 38%,#76cc61 41%,#60cd72 44%,#4ccb83 47%,#3bc992 50%,#31c6a0 53%,#27c2ac 56%,#12beb9 59%,#01b9c6 62%,#07b5d0 65%,#15afd9 68%,#1da9e0 71%,#22a1e4 74%,#2699ea 76.5%,#2c8ff1 79%,#2e83f9 81.5%,#3876fe 84%,#416bfe 86.5%,#465ffb 89%,#4755f6 91.5%,#484aee 94%,#4741e5 97%,#4539d9 100%);-webkit-mask-image:linear-gradient(90deg,transparent 0,#000 49.480%);mask-image:linear-gradient(90deg,transparent 0,#000 49.480%)"></i>
<i style="left:999.17px;width:47.58px;background:linear-gradient(#48cb86 0%,#5dcc75 0.67%,#74cc62 1.33%,#8dcb4f 2%,#acc738 3.5%,#c8c129 5%,#d7be28 7%,#e4bb2c 9%,#eaba31 14%,#e4bb2c 20%,#d0c027 26%,#c1c32d 29%,#b0c636 32%,#8dcb4f 38%,#76cc61 41%,#60cd72 44%,#4ccb83 47%,#3bc992 50%,#31c6a0 53%,#27c2ac 56%,#12beb9 59%,#01b9c6 62%,#07b5d0 65%,#15afd9 68%,#1da9e0 71%,#22a1e4 74%,#2699ea 76.5%,#2c8ff1 79%,#2e83f9 81.5%,#3876fe 84%,#416bfe 86.5%,#465ffb 89%,#4755f6 91.5%,#484aee 94%,#4741e5 97%,#4539d9 100%);-webkit-mask-image:linear-gradient(90deg,transparent 0,#000 100.000%);mask-image:linear-gradient(90deg,transparent 0,#000 100.000%)"></i>
</div>
<div class="cb" style="left:2396.30px;top:952.90px;width:28.30px;height:194.00px;background:linear-gradient(#f9fb15 0.0%,#f6ef20 3.1%,#f5e327 6.2%,#f9d62d 9.4%,#feca33 12.5%,#febe3c 15.6%,#f1ba37 18.8%,#debc2a 21.9%,#c8c129 25.0%,#afc637 28.1%,#94ca4a 31.2%,#77cc60 34.4%,#5ccc76 37.5%,#44ca8a 40.6%,#34c79c 43.8%,#28c2ab 46.9%,#12beb9 50.0%,#01b9c6 53.1%,#0cb3d3 56.2%,#1aacdd 59.4%,#21a3e3 62.5%,#269ae9 65.6%,#2c90f0 68.8%,#2e85f8 71.9%,#347afd 75.0%,#3f6efe 78.1%,#4562fc 81.2%,#4757f7 84.4%,#484cef 87.5%,#4741e5 90.6%,#4536d5 93.8%,#422ebf 96.9%,#3e26a8 100.0%)"></div>
<svg width="2500" height="1239" viewBox="0 0 2500 1239">
<text class="t" x="615.5" y="22.1">Ob-Yenisei, 76°N 76°E</text>
<text class="y" x="79.5" y="61.1">10</text>
<text class="y" x="79.5" y="111.7">30</text>
<text class="y" x="79.5" y="226.3">75</text>
<text class="c" x="1185.3" y="38.4">0.1</text>
<text class="c" x="1185.3" y="231.6">0</text>
<text class="l" x="0.6" y="64.8">(a)</text>
<text class="t" x="1860.3" y="22.1">Lena, 76°N 130°E</text>
<text class="y" x="1326.8" y="53.8">5</text>
<text class="y" x="1326.8" y="96.3">15</text>
<text class="y" x="1326.8" y="159.6">30</text>
<text class="y" x="1326.8" y="222.6">45</text>
<text class="c" x="2432.2" y="38.4">0.1</text>
<text class="c" x="2432.2" y="231.6">0</text>
<text class="l" x="1249.5" y="63.0">(b)</text>
<text class="t" x="612.7" y="253.1">St. Lawrence, 45.5°N 58.5°W</text>
<text class="y" x="79.5" y="285.3">10</text>
<text class="y" x="79.5" y="321.3">30</text>
<text class="y" x="79.5" y="402.3">75</text>
<text class="y" x="79.5" y="455.3">105</text>
<text class="c" x="1185.3" y="269.0">0.1</text>
<text class="c" x="1185.3" y="462.4">0</text>
<text class="l" x="0.8" y="291.7">(c)</text>
<text class="t" x="1859.9" y="253.1">Changjiang, 29.5°N 124.5°E</text>
<text class="y" x="1326.8" y="295.8">10</text>
<text class="y" x="1326.8" y="356.2">30</text>
<text class="y" x="1326.8" y="461.6">65</text>
<text class="c" x="2432.2" y="269.0">0.1</text>
<text class="c" x="2432.2" y="462.4">0</text>
<text class="l" x="1251.0" y="299.6">(d)</text>
<text class="t" x="612.7" y="484.3">Mississippi, 28.5°N 89.5°W</text>
<text class="y" x="79.5" y="514.3">10</text>
<text class="y" x="79.5" y="544.3">30</text>
<text class="y" x="79.5" y="612.3">75</text>
<text class="y" x="79.5" y="657.3">105</text>
<text class="c" x="1185.3" y="499.6">0.1</text>
<text class="c" x="1185.3" y="694.6">0</text>
<text class="l" x="3.3" y="519.7">(e)</text>
<text class="t" x="1859.9" y="484.3">Ganges-Brahmaputra, 19.5°N 89.5°E</text>
<text class="y" x="1326.8" y="514.3">10</text>
<text class="y" x="1326.8" y="544.3">30</text>
<text class="y" x="1326.8" y="612.3">75</text>
<text class="y" x="1326.8" y="687.3">125</text>
<text class="c" x="2432.2" y="499.6">0.1</text>
<text class="c" x="2432.2" y="694.6">0</text>
<text class="l" x="1258.0" y="507.2">(f)</text>
<text class="t" x="612.7" y="715.5">Orinoco, 10°N 60°W</text>
<text class="y" x="79.5" y="745.3">10</text>
<text class="y" x="79.5" y="775.3">30</text>
<text class="y" x="79.5" y="843.3">75</text>
<text class="y" x="79.5" y="918.3">125</text>
<text class="c" x="1185.3" y="732.2">0.1</text>
<text class="c" x="1185.3" y="925.4">0</text>
<text class="l" x="0.8" y="767.9">(g)</text>
<text class="t" x="1859.9" y="715.5">Amazon, 6.8°N 52°W</text>
<text class="y" x="1326.8" y="746.9">5</text>
<text class="y" x="1326.8" y="789.3">15</text>
<text class="y" x="1326.8" y="852.6">30</text>
<text class="y" x="1326.8" y="916.2">45</text>
<text class="c" x="2432.2" y="732.2">0.1</text>
<text class="c" x="2432.2" y="925.4">0</text>
<text class="l" x="1256.0" y="758.1">(h)</text>
<text class="t" x="612.7" y="946.7">Congo, 4.5°S 10.5°E</text>
<text class="y" x="79.5" y="976.3">10</text>
<text class="y" x="79.5" y="1006.3">30</text>
<text class="y" x="79.5" y="1074.3">75</text>
<text class="y" x="79.5" y="1148.3">125</text>
<text class="c" x="1185.3" y="963.0">0.1</text>
<text class="c" x="1185.3" y="1156.2">0</text>
<text class="l" x="9.0" y="1002.3">(i)</text>
<text class="t" style="font-size:30.4px" x="1860.0" y="946.7">Rio de la Plata, 36.5°S 54.5°W</text>
<text class="y" x="1326.8" y="988.8">10</text>
<text class="y" x="1326.8" y="1049.3">30</text>
<text class="y" x="1326.8" y="1154.5">65</text>
<text class="c" x="2432.2" y="963.0">0.1</text>
<text class="c" x="2432.2" y="1156.2">0</text>
<text class="l" x="1259.8" y="1008.6">(j)</text>
<text class="m" transform="translate(98.4,1156.0) rotate(-90)">Jan</text>
<text class="m" transform="translate(193.6,1156.0) rotate(-90)">Feb</text>
<text class="m" transform="translate(288.7,1156.0) rotate(-90)">Mar</text>
<text class="m" transform="translate(383.9,1156.0) rotate(-90)">Apr</text>
<text class="m" transform="translate(479.0,1156.0) rotate(-90)">May</text>
<text class="m" transform="translate(574.2,1156.0) rotate(-90)">Jun</text>
<text class="m" transform="translate(669.4,1156.0) rotate(-90)">Jul</text>
<text class="m" transform="translate(764.5,1156.0) rotate(-90)">Aug</text>
<text class="m" transform="translate(859.7,1156.0) rotate(-90)">Sep</text>
<text class="m" transform="translate(954.8,1156.0) rotate(-90)">Oct</text>
<text class="m" transform="translate(1050.0,1156.0) rotate(-90)">Nov</text>
<text class="m" transform="translate(1145.2,1156.0) rotate(-90)">Dec</text>
<text class="m" transform="translate(1345.7,1156.0) rotate(-90)">Jan</text>
<text class="m" transform="translate(1440.8,1156.0) rotate(-90)">Feb</text>
<text class="m" transform="translate(1536.0,1156.0) rotate(-90)">Mar</text>
<text class="m" transform="translate(1631.1,1156.0) rotate(-90)">Apr</text>
<text class="m" transform="translate(1726.3,1156.0) rotate(-90)">May</text>
<text class="m" transform="translate(1821.4,1156.0) rotate(-90)">Jun</text>
<text class="m" transform="translate(1916.6,1156.0) rotate(-90)">Jul</text>
<text class="m" transform="translate(2011.8,1156.0) rotate(-90)">Aug</text>
<text class="m" transform="translate(2106.9,1156.0) rotate(-90)">Sep</text>
<text class="m" transform="translate(2202.1,1156.0) rotate(-90)">Oct</text>
<text class="m" transform="translate(2297.2,1156.0) rotate(-90)">Nov</text>
<text class="m" transform="translate(2392.4,1156.0) rotate(-90)">Dec</text>
<text class="x" x="612.4" y="1234">Year</text>
<text class="x" style="font-size:30.6px" x="1859.8" y="1236.4">Year</text>
<text class="d" transform="translate(36.4,591.6) rotate(-90)">Depth, m</text>
<text class="d" transform="translate(1274.9,587) rotate(-90)">Depth, m</text>
<text class="s" transform="translate(1245.3,587.6) rotate(-90)">log₁₀(Salinity), psu/m</text>
<text class="s" transform="translate(2493,587.6) rotate(-90)">log₁₀(Salinity), psu/m</text>
</svg>
</body></html>
